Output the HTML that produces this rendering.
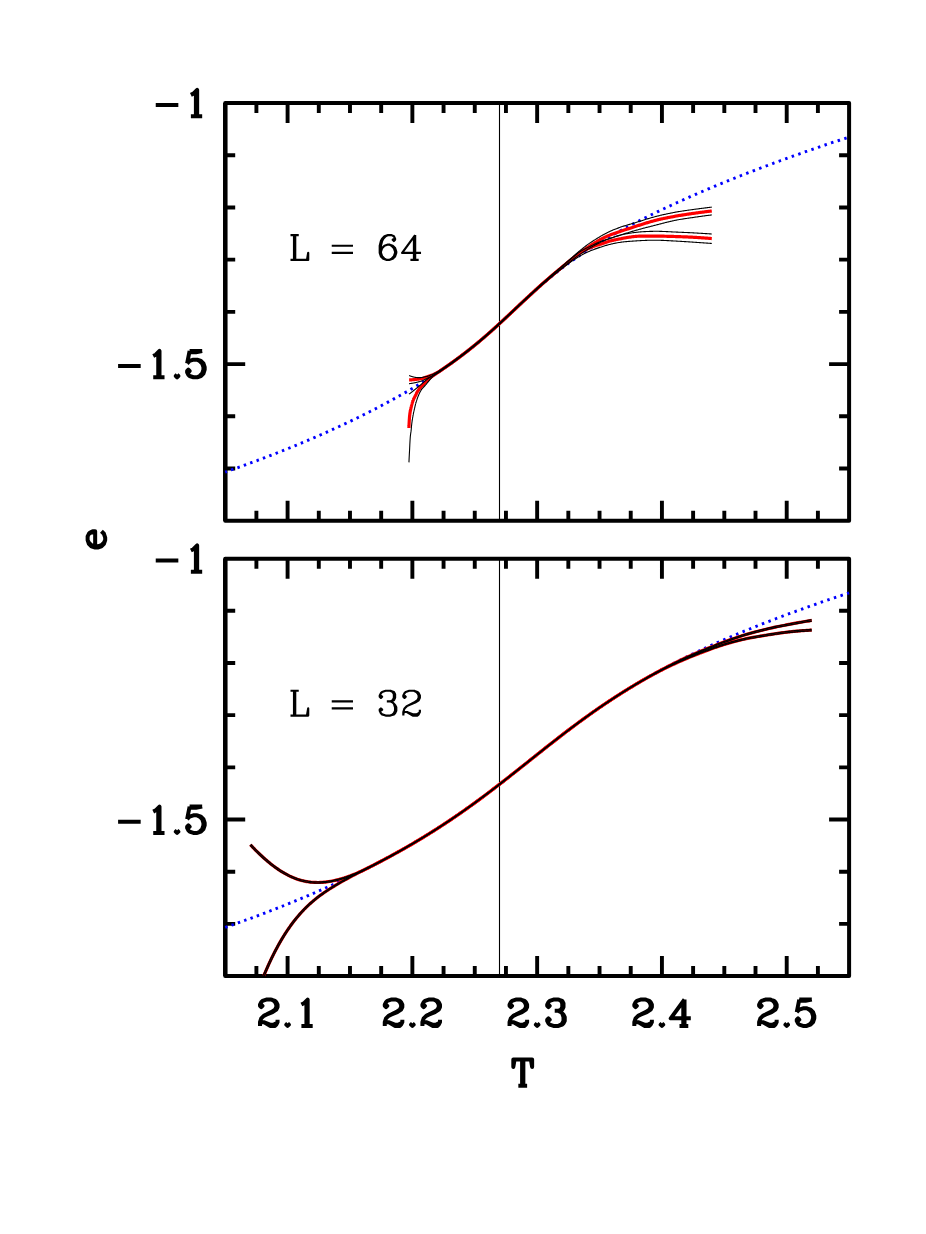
<!DOCTYPE html>
<html><head><meta charset="utf-8"><title>e vs T</title>
<style>html,body{margin:0;padding:0;background:#fff;font-family:"Liberation Sans",sans-serif}svg{display:block}</style></head>
<body>
<svg width="926" height="1234" viewBox="0 0 926 1234">
<rect width="926" height="1234" fill="#fff"/>
<path d="M256.40 103.00 v10.00 M256.40 520.75 v-10.00 M287.59 103.00 v20.00 M287.59 520.75 v-20.00 M318.79 103.00 v10.00 M318.79 520.75 v-10.00 M349.98 103.00 v10.00 M349.98 520.75 v-10.00 M381.18 103.00 v10.00 M381.18 520.75 v-10.00 M412.37 103.00 v20.00 M412.37 520.75 v-20.00 M443.56 103.00 v10.00 M443.56 520.75 v-10.00 M474.76 103.00 v10.00 M474.76 520.75 v-10.00 M505.95 103.00 v10.00 M505.95 520.75 v-10.00 M537.15 103.00 v20.00 M537.15 520.75 v-20.00 M568.34 103.00 v10.00 M568.34 520.75 v-10.00 M599.54 103.00 v10.00 M599.54 520.75 v-10.00 M630.73 103.00 v10.00 M630.73 520.75 v-10.00 M661.93 103.00 v20.00 M661.93 520.75 v-20.00 M693.12 103.00 v10.00 M693.12 520.75 v-10.00 M724.32 103.00 v10.00 M724.32 520.75 v-10.00 M755.51 103.00 v10.00 M755.51 520.75 v-10.00 M786.71 103.00 v20.00 M786.71 520.75 v-20.00 M817.90 103.00 v10.00 M817.90 520.75 v-10.00 M225.20 155.22 h10.00 M849.10 155.22 h-10.00 M225.20 207.44 h10.00 M849.10 207.44 h-10.00 M225.20 259.66 h10.00 M849.10 259.66 h-10.00 M225.20 311.88 h10.00 M849.10 311.88 h-10.00 M225.20 364.09 h20.00 M849.10 364.09 h-20.00 M225.20 416.31 h10.00 M849.10 416.31 h-10.00 M225.20 468.53 h10.00 M849.10 468.53 h-10.00" fill="none" stroke="#000" stroke-width="3.90"/>
<rect x="225.20" y="103.00" width="623.90" height="417.75" fill="none" stroke="#000" stroke-width="4.00" stroke-linejoin="round"/>
<path d="M225.25 103.00 V520.75" fill="none" stroke="#000" stroke-width="4.4"/>
<path d="M256.40 558.65 v10.00 M256.40 976.05 v-10.00 M287.59 558.65 v20.00 M287.59 976.05 v-20.00 M318.79 558.65 v10.00 M318.79 976.05 v-10.00 M349.98 558.65 v10.00 M349.98 976.05 v-10.00 M381.18 558.65 v10.00 M381.18 976.05 v-10.00 M412.37 558.65 v20.00 M412.37 976.05 v-20.00 M443.56 558.65 v10.00 M443.56 976.05 v-10.00 M474.76 558.65 v10.00 M474.76 976.05 v-10.00 M505.95 558.65 v10.00 M505.95 976.05 v-10.00 M537.15 558.65 v20.00 M537.15 976.05 v-20.00 M568.34 558.65 v10.00 M568.34 976.05 v-10.00 M599.54 558.65 v10.00 M599.54 976.05 v-10.00 M630.73 558.65 v10.00 M630.73 976.05 v-10.00 M661.93 558.65 v20.00 M661.93 976.05 v-20.00 M693.12 558.65 v10.00 M693.12 976.05 v-10.00 M724.32 558.65 v10.00 M724.32 976.05 v-10.00 M755.51 558.65 v10.00 M755.51 976.05 v-10.00 M786.71 558.65 v20.00 M786.71 976.05 v-20.00 M817.90 558.65 v10.00 M817.90 976.05 v-10.00 M225.20 610.82 h10.00 M849.10 610.82 h-10.00 M225.20 663.00 h10.00 M849.10 663.00 h-10.00 M225.20 715.17 h10.00 M849.10 715.17 h-10.00 M225.20 767.35 h10.00 M849.10 767.35 h-10.00 M225.20 819.52 h20.00 M849.10 819.52 h-20.00 M225.20 871.70 h10.00 M849.10 871.70 h-10.00 M225.20 923.88 h10.00 M849.10 923.88 h-10.00" fill="none" stroke="#000" stroke-width="3.90"/>
<rect x="225.20" y="558.65" width="623.90" height="417.40" fill="none" stroke="#000" stroke-width="4.00" stroke-linejoin="round"/>
<path d="M225.25 558.65 V976.05" fill="none" stroke="#000" stroke-width="4.4"/>
<path d="M499.50 103.00 V520.75 M499.50 558.65 V976.05" stroke="#000" stroke-width="1.10" fill="none"/>
<path d="M225.20 472.07 L226.69 471.55 L228.19 471.03 L229.68 470.50 L231.17 469.98 L232.67 469.45 L234.16 468.92 L235.65 468.39 L237.15 467.86 L238.64 467.32 L240.13 466.79 L241.63 466.25 L243.12 465.71 L244.62 465.17 L246.11 464.63 L247.60 464.08 L249.10 463.53 L250.59 462.98 L252.08 462.43 L253.58 461.88 L255.07 461.32 L256.56 460.77 L258.06 460.21 L259.55 459.65 L261.04 459.08 L262.54 458.52 L264.03 457.95 L265.52 457.38 L267.02 456.81 L268.51 456.24 L270.00 455.66 L271.50 455.09 L272.99 454.51 L274.48 453.93 L275.98 453.34 L277.47 452.76 L278.97 452.17 L280.46 451.58 L281.95 450.99 L283.45 450.39 L284.94 449.80 L286.43 449.20 L287.93 448.60 L289.42 447.99 L290.91 447.39 L292.41 446.78 L293.90 446.17 L295.39 445.56 L296.89 444.94 L298.38 444.32 L299.87 443.70 L301.37 443.08 L302.86 442.46 L304.35 441.83 L305.85 441.20 L307.34 440.57 L308.83 439.94 L310.33 439.30 L311.82 438.66 L313.32 438.02 L314.81 437.37 L316.30 436.73 L317.80 436.08 L319.29 435.43 L320.78 434.77 L322.28 434.11 L323.77 433.45 L325.26 432.79 L326.76 432.12 L328.25 431.46 L329.74 430.79 L331.24 430.11 L332.73 429.43 L334.22 428.76 L335.72 428.07 L337.21 427.39 L338.70 426.70 L340.20 426.01 L341.69 425.31 L343.18 424.62 L344.68 423.92 L346.17 423.21 L347.67 422.51 L349.16 421.80 L350.65 421.08 L352.15 420.37 L353.64 419.65 L355.13 418.93 L356.63 418.20 L358.12 417.47 L359.61 416.74 L361.11 416.00 L362.60 415.27 L364.09 414.52 L365.59 413.78 L367.08 413.03 L368.57 412.27 L370.07 411.52 L371.56 410.76 L373.05 409.99 L374.55 409.22 L376.04 408.45 L377.53 407.68 L379.03 406.90 L380.52 406.11 L382.02 405.33 L383.51 404.53 L385.00 403.74 L386.50 402.94 L387.99 402.14 L389.48 401.33 L390.98 400.51 L392.47 399.70 L393.96 398.88 L395.46 398.05 L396.95 397.22 L398.44 396.39 L399.94 395.55 L401.43 394.70 L402.92 393.85 L404.42 393.00 L405.91 392.14 L407.40 391.28 L408.90 390.41 L410.39 389.53 L411.88 388.65 L413.38 387.77 L414.87 386.88 L416.37 385.98 L417.86 385.08 L419.35 384.17 L420.85 383.26 L422.34 382.34 L423.83 381.41 L425.33 380.48 L426.82 379.54 L428.31 378.59 L429.81 377.64 L431.30 376.69 L432.79 375.72 L434.29 374.75 L435.78 373.77 L437.27 372.78 L438.77 371.79 L440.26 370.79 L441.75 369.78 L443.25 368.76 L444.74 367.74 L446.23 366.70 L447.73 365.66 L449.22 364.61 L450.72 363.56 L452.21 362.49 L453.70 361.41 L455.20 360.33 L456.69 359.23 L458.18 358.13 L459.68 357.02 L461.17 355.90 L462.66 354.76 L464.16 353.62 L465.65 352.47 L467.14 351.31 L468.64 350.13 L470.13 348.95 L471.62 347.76 L473.12 346.55 L474.61 345.34 L476.10 344.11 L477.60 342.88 L479.09 341.63 L480.58 340.38 L482.08 339.11 L483.57 337.83 L485.07 336.55 L486.56 335.25 L488.05 333.94 L489.55 332.63 L491.04 331.30 L492.53 329.97 L494.03 328.63 L495.52 327.28 L497.01 325.92 L498.51 324.55 L500.00 323.18" fill="none" stroke="#00f" stroke-width="2.90" stroke-dasharray="2.500 4.295" stroke-dashoffset="0.650"/>
<path d="M500.00 323.18 L501.50 321.80 L503.00 320.41 L504.49 319.01 L505.99 317.61 L507.49 316.21 L508.99 314.80 L510.49 313.40 L511.99 311.99 L513.48 310.57 L514.98 309.16 L516.48 307.75 L517.98 306.34 L519.48 304.93 L520.98 303.52 L522.47 302.12 L523.97 300.72 L525.47 299.33 L526.97 297.94 L528.47 296.55 L529.97 295.18 L531.46 293.81 L532.96 292.45 L534.46 291.09 L535.96 289.75 L537.46 288.41 L538.96 287.09 L540.45 285.77 L541.95 284.47 L543.45 283.17 L544.95 281.89 L546.45 280.62 L547.95 279.36 L549.44 278.11 L550.94 276.87 L552.44 275.65 L553.94 274.43 L555.44 273.23 L556.93 272.04 L558.43 270.86 L559.93 269.70 L561.43 268.54 L562.93 267.40 L564.43 266.27 L565.92 265.15 L567.42 264.05 L568.92 262.95 L570.42 261.87 L571.92 260.79 L573.42 259.73 L574.91 258.68 L576.41 257.63 L577.91 256.60 L579.41 255.58 L580.91 254.57 L582.41 253.56 L583.90 252.57 L585.40 251.59 L586.90 250.61 L588.40 249.64 L589.90 248.69 L591.40 247.74 L592.89 246.79 L594.39 245.86 L595.89 244.93 L597.39 244.02 L598.89 243.10 L600.38 242.20 L601.88 241.30 L603.38 240.41 L604.88 239.53 L606.38 238.65 L607.88 237.78 L609.37 236.92 L610.87 236.06 L612.37 235.21 L613.87 234.36 L615.37 233.52 L616.87 232.69 L618.36 231.86 L619.86 231.03 L621.36 230.21 L622.86 229.40 L624.36 228.59 L625.86 227.79 L627.35 226.99 L628.85 226.19 L630.35 225.40 L631.85 224.61 L633.35 223.83 L634.85 223.05 L636.34 222.28 L637.84 221.51 L639.34 220.75 L640.84 219.98 L642.34 219.23 L643.84 218.47 L645.33 217.72 L646.83 216.98 L648.33 216.23 L649.83 215.49 L651.33 214.76 L652.82 214.03 L654.32 213.30 L655.82 212.57 L657.32 211.85 L658.82 211.13 L660.32 210.41 L661.81 209.70 L663.31 208.99 L664.81 208.29 L666.31 207.58 L667.81 206.88 L669.31 206.18 L670.80 205.49 L672.30 204.80 L673.80 204.11 L675.30 203.42 L676.80 202.74 L678.30 202.05 L679.79 201.38 L681.29 200.70 L682.79 200.03 L684.29 199.36 L685.79 198.69 L687.29 198.02 L688.78 197.36 L690.28 196.70 L691.78 196.04 L693.28 195.38 L694.78 194.73 L696.28 194.08 L697.77 193.43 L699.27 192.78 L700.77 192.14 L702.27 191.49 L703.77 190.85 L705.26 190.22 L706.76 189.58 L708.26 188.95 L709.76 188.32 L711.26 187.69 L712.76 187.06 L714.25 186.43 L715.75 185.81 L717.25 185.19 L718.75 184.57 L720.25 183.95 L721.75 183.34 L723.24 182.73 L724.74 182.12 L726.24 181.51 L727.74 180.90 L729.24 180.29 L730.74 179.69 L732.23 179.09 L733.73 178.49 L735.23 177.89 L736.73 177.30 L738.23 176.70 L739.73 176.11 L741.22 175.52 L742.72 174.93 L744.22 174.35 L745.72 173.76 L747.22 173.18 L748.72 172.60 L750.21 172.02 L751.71 171.44 L753.21 170.86 L754.71 170.29 L756.21 169.71 L757.70 169.14 L759.20 168.57 L760.70 168.00 L762.20 167.44 L763.70 166.87 L765.20 166.31 L766.69 165.75 L768.19 165.19 L769.69 164.63 L771.19 164.07 L772.69 163.52 L774.19 162.96 L775.68 162.41 L777.18 161.86 L778.68 161.31 L780.18 160.76 L781.68 160.22 L783.18 159.67 L784.67 159.13 L786.17 158.59 L787.67 158.05 L789.17 157.51 L790.67 156.97 L792.17 156.44 L793.66 155.90 L795.16 155.37 L796.66 154.84 L798.16 154.31 L799.66 153.78 L801.15 153.25 L802.65 152.73 L804.15 152.20 L805.65 151.68 L807.15 151.16 L808.65 150.64 L810.14 150.12 L811.64 149.60 L813.14 149.08 L814.64 148.57 L816.14 148.05 L817.64 147.54 L819.13 147.03 L820.63 146.52 L822.13 146.01 L823.63 145.50 L825.13 145.00 L826.63 144.49 L828.12 143.99 L829.62 143.49 L831.12 142.99 L832.62 142.49 L834.12 141.99 L835.62 141.49 L837.11 140.99 L838.61 140.50 L840.11 140.00 L841.61 139.51 L843.11 139.02 L844.61 138.53 L846.10 138.04 L847.60 137.55 L849.10 137.07" fill="none" stroke="#00f" stroke-width="2.90" stroke-dasharray="2.500 4.440" stroke-dashoffset="0.855"/>
<path d="M225.20 927.41 L226.69 926.89 L228.19 926.37 L229.68 925.84 L231.17 925.32 L232.67 924.79 L234.16 924.26 L235.65 923.73 L237.15 923.20 L238.64 922.67 L240.13 922.13 L241.63 921.60 L243.12 921.06 L244.62 920.51 L246.11 919.97 L247.60 919.43 L249.10 918.88 L250.59 918.33 L252.08 917.78 L253.58 917.23 L255.07 916.67 L256.56 916.12 L258.06 915.56 L259.55 915.00 L261.04 914.43 L262.54 913.87 L264.03 913.30 L265.52 912.74 L267.02 912.16 L268.51 911.59 L270.00 911.02 L271.50 910.44 L272.99 909.86 L274.48 909.28 L275.98 908.70 L277.47 908.11 L278.97 907.52 L280.46 906.93 L281.95 906.34 L283.45 905.75 L284.94 905.15 L286.43 904.55 L287.93 903.95 L289.42 903.35 L290.91 902.74 L292.41 902.14 L293.90 901.53 L295.39 900.92 L296.89 900.30 L298.38 899.68 L299.87 899.06 L301.37 898.44 L302.86 897.82 L304.35 897.19 L305.85 896.56 L307.34 895.93 L308.83 895.30 L310.33 894.66 L311.82 894.02 L313.32 893.38 L314.81 892.74 L316.30 892.09 L317.80 891.44 L319.29 890.79 L320.78 890.13 L322.28 889.48 L323.77 888.82 L325.26 888.15 L326.76 887.49 L328.25 886.82 L329.74 886.15 L331.24 885.48 L332.73 884.80 L334.22 884.12 L335.72 883.44 L337.21 882.75 L338.70 882.07 L340.20 881.37 L341.69 880.68 L343.18 879.98 L344.68 879.28 L346.17 878.58 L347.67 877.87 L349.16 877.16 L350.65 876.45 L352.15 875.74 L353.64 875.02 L355.13 874.29 L356.63 873.57 L358.12 872.84 L359.61 872.11 L361.11 871.37 L362.60 870.63 L364.09 869.89 L365.59 869.15 L367.08 868.40 L368.57 867.64 L370.07 866.89 L371.56 866.13 L373.05 865.36 L374.55 864.60 L376.04 863.83 L377.53 863.05 L379.03 862.27 L380.52 861.49 L382.02 860.70 L383.51 859.91 L385.00 859.12 L386.50 858.32 L387.99 857.52 L389.48 856.71 L390.98 855.90 L392.47 855.09 L393.96 854.27 L395.46 853.45 L396.95 852.62 L398.44 851.79 L399.94 850.96 L401.43 850.12 L402.92 849.27 L404.42 848.43 L405.91 847.57 L407.40 846.71 L408.90 845.85 L410.39 844.99 L411.88 844.12 L413.38 843.24 L414.87 842.36 L416.37 841.47 L417.86 840.58 L419.35 839.69 L420.85 838.79 L422.34 837.89 L423.83 836.98 L425.33 836.06 L426.82 835.14 L428.31 834.22 L429.81 833.29 L431.30 832.35 L432.79 831.42 L434.29 830.47 L435.78 829.52 L437.27 828.57 L438.77 827.61 L440.26 826.64 L441.75 825.67 L443.25 824.70 L444.74 823.71 L446.23 822.73 L447.73 821.74 L449.22 820.74 L450.72 819.74 L452.21 818.73 L453.70 817.72 L455.20 816.70 L456.69 815.68 L458.18 814.65 L459.68 813.62 L461.17 812.58 L462.66 811.54 L464.16 810.49 L465.65 809.43 L467.14 808.37 L468.64 807.31 L470.13 806.24 L471.62 805.17 L473.12 804.09 L474.61 803.00 L476.10 801.92 L477.60 800.82 L479.09 799.72 L480.58 798.62 L482.08 797.51 L483.57 796.40 L485.07 795.29 L486.56 794.17 L488.05 793.04 L489.55 791.91 L491.04 790.78 L492.53 789.64 L494.03 788.50 L495.52 787.36 L497.01 786.21 L498.51 785.06 L500.00 783.91" fill="none" stroke="#00f" stroke-width="2.90" stroke-dasharray="2.500 4.215" stroke-dashoffset="0.050"/>
<path d="M500.00 783.91 L501.50 782.74 L503.00 781.58 L504.49 780.41 L505.99 779.24 L507.49 778.07 L508.99 776.89 L510.49 775.72 L511.99 774.54 L513.48 773.35 L514.98 772.17 L516.48 770.98 L517.98 769.80 L519.48 768.61 L520.98 767.42 L522.47 766.23 L523.97 765.04 L525.47 763.85 L526.97 762.65 L528.47 761.46 L529.97 760.27 L531.46 759.07 L532.96 757.88 L534.46 756.69 L535.96 755.50 L537.46 754.31 L538.96 753.12 L540.45 751.93 L541.95 750.74 L543.45 749.55 L544.95 748.37 L546.45 747.18 L547.95 746.00 L549.44 744.83 L550.94 743.65 L552.44 742.48 L553.94 741.30 L555.44 740.14 L556.93 738.97 L558.43 737.81 L559.93 736.65 L561.43 735.49 L562.93 734.34 L564.43 733.19 L565.92 732.05 L567.42 730.91 L568.92 729.77 L570.42 728.64 L571.92 727.51 L573.42 726.39 L574.91 725.27 L576.41 724.16 L577.91 723.05 L579.41 721.94 L580.91 720.84 L582.41 719.75 L583.90 718.66 L585.40 717.57 L586.90 716.49 L588.40 715.42 L589.90 714.35 L591.40 713.29 L592.89 712.23 L594.39 711.18 L595.89 710.13 L597.39 709.09 L598.89 708.06 L600.38 707.03 L601.88 706.00 L603.38 704.98 L604.88 703.97 L606.38 702.96 L607.88 701.96 L609.37 700.97 L610.87 699.98 L612.37 698.99 L613.87 698.01 L615.37 697.04 L616.87 696.08 L618.36 695.11 L619.86 694.16 L621.36 693.21 L622.86 692.27 L624.36 691.33 L625.86 690.40 L627.35 689.47 L628.85 688.55 L630.35 687.63 L631.85 686.72 L633.35 685.82 L634.85 684.92 L636.34 684.03 L637.84 683.14 L639.34 682.26 L640.84 681.38 L642.34 680.51 L643.84 679.64 L645.33 678.78 L646.83 677.92 L648.33 677.07 L649.83 676.23 L651.33 675.39 L652.82 674.55 L654.32 673.72 L655.82 672.89 L657.32 672.07 L658.82 671.26 L660.32 670.44 L661.81 669.64 L663.31 668.83 L664.81 668.04 L666.31 667.24 L667.81 666.46 L669.31 665.67 L670.80 664.89 L672.30 664.12 L673.80 663.35 L675.30 662.58 L676.80 661.82 L678.30 661.06 L679.79 660.30 L681.29 659.55 L682.79 658.81 L684.29 658.07 L685.79 657.33 L687.29 656.60 L688.78 655.86 L690.28 655.14 L691.78 654.42 L693.28 653.70 L694.78 652.98 L696.28 652.27 L697.77 651.56 L699.27 650.86 L700.77 650.16 L702.27 649.46 L703.77 648.76 L705.26 648.07 L706.76 647.39 L708.26 646.70 L709.76 646.02 L711.26 645.34 L712.76 644.67 L714.25 644.00 L715.75 643.33 L717.25 642.66 L718.75 642.00 L720.25 641.34 L721.75 640.69 L723.24 640.03 L724.74 639.38 L726.24 638.74 L727.74 638.09 L729.24 637.45 L730.74 636.81 L732.23 636.17 L733.73 635.54 L735.23 634.91 L736.73 634.28 L738.23 633.65 L739.73 633.03 L741.22 632.41 L742.72 631.79 L744.22 631.17 L745.72 630.56 L747.22 629.95 L748.72 629.34 L750.21 628.73 L751.71 628.13 L753.21 627.53 L754.71 626.93 L756.21 626.33 L757.70 625.74 L759.20 625.14 L760.70 624.55 L762.20 623.96 L763.70 623.38 L765.20 622.79 L766.69 622.21 L768.19 621.63 L769.69 621.05 L771.19 620.48 L772.69 619.91 L774.19 619.33 L775.68 618.76 L777.18 618.20 L778.68 617.63 L780.18 617.07 L781.68 616.50 L783.18 615.94 L784.67 615.39 L786.17 614.83 L787.67 614.27 L789.17 613.72 L790.67 613.17 L792.17 612.62 L793.66 612.07 L795.16 611.53 L796.66 610.98 L798.16 610.44 L799.66 609.90 L801.15 609.36 L802.65 608.82 L804.15 608.29 L805.65 607.75 L807.15 607.22 L808.65 606.69 L810.14 606.16 L811.64 605.63 L813.14 605.11 L814.64 604.58 L816.14 604.06 L817.64 603.54 L819.13 603.02 L820.63 602.50 L822.13 601.98 L823.63 601.47 L825.13 600.95 L826.63 600.44 L828.12 599.93 L829.62 599.42 L831.12 598.91 L832.62 598.41 L834.12 597.90 L835.62 597.40 L837.11 596.90 L838.61 596.39 L840.11 595.89 L841.61 595.40 L843.11 594.90 L844.61 594.40 L846.10 593.91 L847.60 593.42 L849.10 592.92" fill="none" stroke="#00f" stroke-width="2.90" stroke-dasharray="2.500 4.460" stroke-dashoffset="4.754"/>
<path d="M409.10 379.90 L409.17 379.90 L409.23 379.90 L409.30 379.90 L409.37 379.89 L409.44 379.89 L409.50 379.89 L409.57 379.89 L409.64 379.89 L409.71 379.88 L409.77 379.88 L409.82 379.88 L409.84 379.88 L409.91 379.88 L409.97 379.88 L410.04 379.87 L410.11 379.87 L410.18 379.87 L410.24 379.87 L410.31 379.86 L410.38 379.86 L410.44 379.86 L410.51 379.86 L410.54 379.85 L410.58 379.85 L410.65 379.85 L410.71 379.85 L410.78 379.84 L410.85 379.84 L410.92 379.84 L410.98 379.83 L411.05 379.83 L411.12 379.83 L411.18 379.82 L411.25 379.82 L411.27 379.82 L411.32 379.82 L411.39 379.81 L411.45 379.81 L411.52 379.81 L411.59 379.80 L411.65 379.80 L411.72 379.79 L411.79 379.79 L411.86 379.78 L411.92 379.78 L411.99 379.78 L411.99 379.78 L412.06 379.77 L412.13 379.77 L412.19 379.76 L412.26 379.76 L412.33 379.75 L412.39 379.75 L412.46 379.74 L412.53 379.74 L412.60 379.73 L412.66 379.73 L412.71 379.72 L412.73 379.72 L412.80 379.72 L412.86 379.71 L412.93 379.71 L413.00 379.70 L413.00 379.70 L413.07 379.69 L413.13 379.69 L413.20 379.68 L413.27 379.68 L413.34 379.67 L413.40 379.66 L413.43 379.66 L413.47 379.66 L413.54 379.65 L413.60 379.64 L413.67 379.64 L413.74 379.63 L413.81 379.62 L413.87 379.62 L413.94 379.61 L414.01 379.60 L414.07 379.60 L414.14 379.59 L414.16 379.59 L414.21 379.58 L414.28 379.57 L414.34 379.57 L414.41 379.56 L414.48 379.55 L414.55 379.54 L414.61 379.54 L414.68 379.53 L414.75 379.52 L414.81 379.51 L414.88 379.51 L414.88 379.51 L414.95 379.50 L415.02 379.49 L415.08 379.48 L415.15 379.47 L415.22 379.47 L415.28 379.46 L415.35 379.45 L415.42 379.44 L415.49 379.43 L415.55 379.42 L415.60 379.42 L415.62 379.42 L415.69 379.41 L415.76 379.40 L415.82 379.39 L415.89 379.38 L415.96 379.37 L416.02 379.36 L416.09 379.36 L416.16 379.35 L416.23 379.34 L416.29 379.33 L416.32 379.33 L416.36 379.32 L416.43 379.31 L416.49 379.30 L416.56 379.30 L416.63 379.29 L416.70 379.28 L416.76 379.27 L416.83 379.26 L416.90 379.25 L416.97 379.24 L417.03 379.23 L417.05 379.23 L417.10 379.23 L417.30 379.20 L417.77 379.14 L418.49 379.06 L419.21 378.99 L419.94 378.90 L420.66 378.79 L421.38 378.65 L421.60 378.60 L422.10 378.48 L422.83 378.29 L423.55 378.08 L424.27 377.86 L424.99 377.62 L425.72 377.37 L425.90 377.30 L426.44 377.10 L427.16 376.84 L427.88 376.58 L428.61 376.32 L429.33 376.05 L430.05 375.79 L430.77 375.52 L431.50 375.24 L432.22 374.96 L432.94 374.67 L433.66 374.36 L434.39 374.04 L435.11 373.71 L435.83 373.37 L436.55 373.00 L437.27 372.62 L438.00 372.21 L438.72 371.78 L439.44 371.33 L440.00 370.96 L440.16 370.85 L440.89 370.37 L441.61 369.88 L442.33 369.39 L443.05 368.89 L443.78 368.40 L444.50 367.90 L445.22 367.41 L445.94 366.91 L446.67 366.40 L447.39 365.90 L448.11 365.40 L448.83 364.89 L449.56 364.38 L450.28 363.87 L451.00 363.35 L451.72 362.84 L452.45 362.32 L453.17 361.80 L453.89 361.28 L454.61 360.75 L455.34 360.23 L456.06 359.70 L456.78 359.17 L457.50 358.63 L458.23 358.10 L458.95 357.56 L459.67 357.02 L460.00 356.78 L460.39 356.48 L461.12 355.94 L461.84 355.39 L462.56 354.84 L463.28 354.29 L464.01 353.74 L464.73 353.18 L465.45 352.62 L466.17 352.06 L466.89 351.50 L467.62 350.94 L468.34 350.37 L469.06 349.80 L469.78 349.23 L470.51 348.65 L471.23 348.07 L471.95 347.49 L472.67 346.91 L473.40 346.33 L474.12 345.74 L474.84 345.15 L475.56 344.56 L476.29 343.96 L477.01 343.37 L477.73 342.77 L478.45 342.17 L479.18 341.56 L479.90 340.96 L480.00 340.87 L480.62 340.35 L481.34 339.74 L482.07 339.12 L482.79 338.51 L483.51 337.89 L484.23 337.27 L484.96 336.64 L485.68 336.02 L486.40 335.39 L487.12 334.76 L487.85 334.13 L488.57 333.49 L489.29 332.85 L490.01 332.22 L490.74 331.57 L491.46 330.93 L492.18 330.29 L492.90 329.64 L493.62 328.99 L494.35 328.34 L495.07 327.68 L495.79 327.03 L496.51 326.37 L497.24 325.71 L497.96 325.05 L498.68 324.39 L499.40 323.73 L500.00 323.18 L500.13 323.06 L500.85 322.40 L501.57 321.73 L502.29 321.06 L503.02 320.39 L503.74 319.72 L504.46 319.04 L505.18 318.37 L505.91 317.70 L506.63 317.02 L507.35 316.34 L508.07 315.66 L508.80 314.99 L509.52 314.31 L510.24 313.63 L510.96 312.95 L511.69 312.27 L512.41 311.59 L513.13 310.91 L513.85 310.23 L514.58 309.55 L515.30 308.86 L516.02 308.18 L516.74 307.50 L517.47 306.82 L518.19 306.14 L518.91 305.46 L519.63 304.78 L520.00 304.44 L520.35 304.11 L521.08 303.43 L521.80 302.75 L522.52 302.07 L523.24 301.40 L523.97 300.73 L524.69 300.05 L525.41 299.38 L526.13 298.71 L526.86 298.04 L527.58 297.37 L528.30 296.71 L529.02 296.04 L529.75 295.38 L530.00 295.14 L530.47 294.71 L531.19 294.05 L531.91 293.38 L532.64 292.72 L533.36 292.05 L534.08 291.38 L534.80 290.71 L535.53 290.05 L536.25 289.38 L536.97 288.72 L537.69 288.06 L538.42 287.40 L539.14 286.74 L539.86 286.09 L540.00 285.97 L540.58 285.45 L541.31 284.80 L542.03 284.16 L542.75 283.52 L543.47 282.89 L544.20 282.25 L544.92 281.62 L545.64 280.99 L546.36 280.37 L547.08 279.74 L547.81 279.12 L548.53 278.50 L549.25 277.88 L549.97 277.27 L550.00 277.25 L550.70 276.65 L551.42 276.04 L552.14 275.44 L552.86 274.83 L553.59 274.23 L554.31 273.63 L555.03 273.03 L555.75 272.43 L556.48 271.83 L557.20 271.24 L557.92 270.64 L558.64 270.05 L559.37 269.46 L560.00 268.95 L560.09 268.87 L560.81 268.28 L561.53 267.69 L562.26 267.10 L562.98 266.50 L563.70 265.90 L564.42 265.31 L565.15 264.71 L565.87 264.12 L566.59 263.53 L567.31 262.94 L568.04 262.35 L568.76 261.76 L569.48 261.18 L570.00 260.77 L570.20 260.61 L570.93 260.03 L571.65 259.44 L572.37 258.85 L573.09 258.26 L573.82 257.68 L574.54 257.09 L575.26 256.52 L575.98 255.94 L576.70 255.38 L577.43 254.83 L578.15 254.29 L578.87 253.76 L579.59 253.26 L580.00 252.98 L580.32 252.77 L581.04 252.30 L581.76 251.85 L582.48 251.43 L583.21 251.02 L583.93 250.63 L584.65 250.25 L585.37 249.89 L586.10 249.54 L586.82 249.19 L587.54 248.85 L588.26 248.52 L588.99 248.18 L589.71 247.85 L590.00 247.72 L590.43 247.53 L591.15 247.22 L591.88 246.93 L592.60 246.67 L593.32 246.41 L594.04 246.17 L594.77 245.94 L595.49 245.72 L596.21 245.50 L596.93 245.28 L597.66 245.07 L598.38 244.85 L599.10 244.62 L599.82 244.39 L600.00 244.33 L600.55 244.15 L601.27 243.91 L601.99 243.66 L602.71 243.41 L603.43 243.16 L604.16 242.92 L604.88 242.67 L605.60 242.43 L606.32 242.19 L607.05 241.95 L607.77 241.72 L608.49 241.50 L609.21 241.28 L609.94 241.08 L610.00 241.06 L610.66 240.88 L611.38 240.69 L612.10 240.51 L612.83 240.34 L613.55 240.17 L614.27 240.01 L614.99 239.85 L615.72 239.70 L616.44 239.55 L617.16 239.41 L617.88 239.27 L618.61 239.13 L619.33 238.99 L620.00 238.86 L620.05 238.85 L620.77 238.71 L621.50 238.57 L622.22 238.43 L622.94 238.30 L623.66 238.16 L624.39 238.03 L625.11 237.90 L625.83 237.77 L626.55 237.65 L627.28 237.53 L628.00 237.41 L628.72 237.29 L629.44 237.18 L630.16 237.07 L630.89 236.97 L631.61 236.87 L632.33 236.78 L633.05 236.69 L633.78 236.60 L634.50 236.52 L635.00 236.47 L635.22 236.45 L635.94 236.39 L636.67 236.33 L637.39 236.27 L638.11 236.23 L638.83 236.19 L639.56 236.15 L640.28 236.12 L641.00 236.10 L641.72 236.08 L642.45 236.06 L643.17 236.05 L643.89 236.04 L644.61 236.04 L645.34 236.03 L646.06 236.03 L646.78 236.03 L647.50 236.04 L648.23 236.04 L648.95 236.05 L649.67 236.06 L650.39 236.06 L651.12 236.07 L651.84 236.08 L652.56 236.09 L653.28 236.09 L654.01 236.10 L654.73 236.10 L655.00 236.10 L655.45 236.10 L656.17 236.10 L656.89 236.11 L657.62 236.11 L658.34 236.12 L659.06 236.13 L659.78 236.14 L660.51 236.15 L661.23 236.16 L661.95 236.17 L662.67 236.19 L663.40 236.20 L664.12 236.22 L664.84 236.23 L665.56 236.25 L666.29 236.27 L667.01 236.29 L667.73 236.30 L668.45 236.32 L669.18 236.34 L669.90 236.36 L670.62 236.39 L671.34 236.41 L672.07 236.43 L672.79 236.45 L673.51 236.47 L674.23 236.50 L674.40 236.50 L674.96 236.52 L675.68 236.54 L676.40 236.57 L677.12 236.59 L677.85 236.61 L678.57 236.64 L679.29 236.66 L680.01 236.69 L680.74 236.71 L681.46 236.74 L682.18 236.76 L682.90 236.79 L683.63 236.82 L684.35 236.85 L685.07 236.88 L685.79 236.91 L686.51 236.94 L687.24 236.97 L687.96 237.00 L688.68 237.03 L689.40 237.07 L690.13 237.10 L690.85 237.14 L691.57 237.17 L692.29 237.21 L693.02 237.25 L693.74 237.29 L693.90 237.30 L694.46 237.33 L695.18 237.37 L695.91 237.42 L696.63 237.46 L697.35 237.51 L698.07 237.55 L698.80 237.60 L699.52 237.64 L700.24 237.69 L700.96 237.74 L701.69 237.79 L702.41 237.84 L703.13 237.89 L703.85 237.94 L704.58 237.99 L705.30 238.05 L706.02 238.10 L706.74 238.15 L707.47 238.21 L708.19 238.27 L708.91 238.32 L709.63 238.38 L710.36 238.44 L711.08 238.50 L711.80 238.56" fill="none" stroke="#f00" stroke-width="3.20" stroke-linejoin="round"/>
<path d="M408.90 428.00 L408.97 426.66 L409.03 425.31 L409.04 425.20 L409.10 423.90 L409.17 422.45 L409.24 421.14 L409.25 420.90 L409.30 420.03 L409.37 419.00 L409.44 418.05 L409.51 417.21 L409.56 416.60 L409.57 416.47 L409.62 415.97 L409.64 415.81 L409.71 415.19 L409.77 414.62 L409.84 414.08 L409.91 413.58 L409.98 413.10 L410.04 412.66 L410.10 412.30 L410.11 412.24 L410.18 411.84 L410.24 411.46 L410.31 411.10 L410.35 410.92 L410.38 410.75 L410.45 410.41 L410.51 410.09 L410.58 409.78 L410.65 409.47 L410.72 409.17 L410.78 408.87 L410.85 408.58 L410.92 408.28 L410.98 408.00 L410.98 407.98 L411.05 407.68 L411.07 407.61 L411.12 407.39 L411.19 407.09 L411.25 406.79 L411.32 406.50 L411.39 406.21 L411.45 405.93 L411.52 405.65 L411.59 405.37 L411.66 405.10 L411.72 404.83 L411.79 404.57 L411.79 404.57 L411.86 404.32 L411.93 404.07 L411.99 403.83 L412.06 403.60 L412.06 403.60 L412.13 403.38 L412.19 403.16 L412.26 402.94 L412.33 402.72 L412.40 402.51 L412.46 402.30 L412.51 402.14 L412.53 402.10 L412.60 401.89 L412.66 401.69 L412.73 401.50 L412.80 401.30 L412.87 401.11 L412.93 400.92 L413.00 400.74 L413.07 400.56 L413.14 400.38 L413.20 400.21 L413.24 400.12 L413.27 400.03 L413.34 399.86 L413.40 399.70 L413.47 399.53 L413.54 399.37 L413.57 399.30 L413.61 399.22 L413.67 399.06 L413.74 398.91 L413.81 398.76 L413.87 398.61 L413.94 398.47 L413.96 398.43 L414.01 398.33 L414.08 398.19 L414.14 398.05 L414.21 397.91 L414.28 397.78 L414.35 397.64 L414.41 397.51 L414.48 397.38 L414.55 397.25 L414.61 397.12 L414.68 396.99 L414.68 396.99 L414.75 396.87 L414.82 396.74 L414.88 396.61 L414.95 396.49 L415.02 396.36 L415.08 396.23 L415.15 396.11 L415.22 395.98 L415.29 395.86 L415.35 395.73 L415.41 395.63 L415.42 395.60 L415.49 395.47 L415.56 395.34 L415.62 395.21 L415.69 395.08 L415.73 395.00 L415.76 394.95 L415.82 394.81 L415.89 394.67 L415.96 394.54 L416.03 394.40 L416.09 394.26 L416.13 394.18 L416.16 394.12 L416.23 393.98 L416.29 393.84 L416.36 393.69 L416.43 393.55 L416.50 393.42 L416.56 393.28 L416.63 393.14 L416.70 393.00 L416.77 392.87 L416.83 392.74 L416.85 392.70 L416.90 392.61 L417.30 391.90 L417.57 391.46 L418.30 390.35 L419.02 389.30 L419.74 388.32 L420.47 387.40 L421.19 386.55 L421.60 386.10 L421.91 385.77 L422.64 385.05 L423.36 384.36 L424.08 383.69 L424.80 383.03 L425.53 382.36 L425.90 382.00 L426.25 381.65 L426.97 380.88 L427.70 380.09 L428.42 379.31 L429.14 378.59 L429.86 377.95 L430.20 377.70 L430.59 377.43 L431.31 376.92 L432.03 376.41 L432.76 375.91 L433.48 375.41 L434.20 374.91 L434.92 374.41 L435.65 373.91 L436.37 373.42 L437.09 372.93 L437.82 372.44 L438.54 371.95 L439.26 371.46 L439.99 370.97 L440.00 370.96 L440.71 370.49 L441.43 370.00 L442.15 369.51 L442.88 369.02 L443.60 368.52 L444.32 368.03 L445.05 367.53 L445.77 367.03 L446.49 366.53 L447.21 366.02 L447.94 365.52 L448.66 365.01 L449.38 364.50 L450.11 363.99 L450.83 363.48 L451.55 362.96 L452.27 362.44 L453.00 361.92 L453.72 361.40 L454.44 360.88 L455.17 360.35 L455.89 359.82 L456.61 359.29 L457.34 358.76 L458.06 358.22 L458.78 357.69 L459.50 357.15 L460.00 356.78 L460.23 356.61 L460.95 356.06 L461.67 355.52 L462.40 354.97 L463.12 354.42 L463.84 353.86 L464.56 353.31 L465.29 352.75 L466.01 352.19 L466.73 351.63 L467.46 351.06 L468.18 350.49 L468.90 349.92 L469.62 349.35 L470.35 348.78 L471.07 348.20 L471.79 347.62 L472.52 347.04 L473.24 346.45 L473.96 345.87 L474.68 345.28 L475.41 344.69 L476.13 344.09 L476.85 343.50 L477.58 342.90 L478.30 342.29 L479.02 341.69 L479.75 341.08 L480.00 340.87 L480.47 340.48 L481.19 339.86 L481.91 339.25 L482.64 338.63 L483.36 338.02 L484.08 337.39 L484.81 336.77 L485.53 336.15 L486.25 335.52 L486.97 334.89 L487.70 334.26 L488.42 333.62 L489.14 332.98 L489.87 332.34 L490.59 331.70 L491.31 331.06 L492.03 330.42 L492.76 329.77 L493.48 329.12 L494.20 328.47 L494.93 327.81 L495.65 327.16 L496.37 326.50 L497.10 325.84 L497.82 325.18 L498.54 324.52 L499.26 323.86 L499.99 323.19 L500.00 323.18 L500.71 322.53 L501.43 321.86 L502.16 321.19 L502.88 320.52 L503.60 319.84 L504.32 319.17 L505.05 318.50 L505.77 317.82 L506.49 317.15 L507.22 316.47 L507.94 315.79 L508.66 315.11 L509.38 314.43 L510.11 313.75 L510.83 313.07 L511.55 312.39 L512.28 311.71 L513.00 311.03 L513.72 310.35 L514.45 309.67 L515.17 308.99 L515.89 308.31 L516.61 307.62 L517.34 306.94 L518.06 306.26 L518.78 305.58 L519.51 304.90 L520.00 304.44 L520.23 304.22 L520.95 303.55 L521.67 302.87 L522.40 302.19 L523.12 301.52 L523.84 300.84 L524.57 300.17 L525.29 299.49 L526.01 298.82 L526.73 298.15 L527.46 297.48 L528.18 296.82 L528.90 296.15 L529.63 295.49 L530.00 295.14 L530.35 294.82 L531.07 294.16 L531.79 293.49 L532.52 292.83 L533.24 292.16 L533.96 291.49 L534.69 290.82 L535.41 290.15 L536.13 289.49 L536.86 288.82 L537.58 288.16 L538.30 287.50 L539.02 286.85 L539.75 286.20 L540.00 285.97 L540.47 285.55 L541.19 284.90 L541.92 284.26 L542.64 283.62 L543.36 282.99 L544.08 282.35 L544.81 281.72 L545.53 281.09 L546.25 280.47 L546.98 279.84 L547.70 279.22 L548.42 278.60 L549.14 277.98 L549.87 277.36 L550.00 277.25 L550.59 276.74 L551.31 276.13 L552.04 275.51 L552.76 274.90 L553.48 274.29 L554.21 273.68 L554.93 273.07 L555.65 272.47 L556.37 271.86 L557.10 271.26 L557.82 270.65 L558.54 270.05 L559.27 269.45 L559.99 268.85 L560.00 268.85 L560.71 268.26 L561.43 267.65 L562.16 267.05 L562.88 266.45 L563.60 265.84 L564.33 265.24 L565.05 264.64 L565.77 264.03 L566.49 263.43 L567.22 262.84 L567.94 262.24 L568.66 261.65 L569.39 261.06 L570.00 260.57 L570.11 260.48 L570.83 259.90 L571.56 259.32 L572.28 258.74 L573.00 258.17 L573.72 257.59 L574.45 257.02 L575.17 256.45 L575.89 255.88 L576.62 255.32 L577.34 254.77 L578.06 254.22 L578.78 253.68 L579.51 253.14 L580.00 252.78 L580.23 252.61 L580.95 252.08 L581.68 251.56 L582.40 251.04 L583.12 250.52 L583.84 250.00 L584.57 249.49 L585.29 248.98 L586.01 248.48 L586.74 247.98 L587.46 247.49 L588.18 247.00 L588.91 246.53 L589.63 246.06 L590.00 245.82 L590.35 245.60 L591.07 245.14 L591.80 244.69 L592.52 244.24 L593.24 243.79 L593.97 243.34 L594.69 242.90 L595.41 242.46 L596.13 242.02 L596.86 241.59 L597.58 241.16 L598.30 240.73 L599.03 240.30 L599.75 239.88 L600.00 239.73 L600.47 239.46 L601.19 239.06 L601.92 238.68 L602.64 238.31 L603.36 237.95 L604.09 237.61 L604.81 237.28 L605.53 236.96 L606.25 236.64 L606.98 236.33 L607.70 236.02 L608.42 235.72 L609.15 235.42 L609.87 235.12 L610.00 235.06 L610.59 234.82 L611.32 234.53 L612.04 234.25 L612.76 233.99 L613.48 233.73 L614.21 233.48 L614.93 233.24 L615.65 233.00 L616.38 232.76 L617.10 232.52 L617.82 232.28 L618.54 232.05 L619.27 231.81 L619.99 231.56 L620.00 231.56 L620.71 231.31 L621.44 231.07 L622.16 230.82 L622.88 230.57 L623.60 230.33 L624.33 230.08 L625.05 229.84 L625.77 229.60 L626.50 229.36 L627.22 229.11 L627.94 228.87 L628.67 228.63 L629.39 228.40 L630.11 228.16 L630.83 227.92 L631.56 227.68 L632.28 227.45 L633.00 227.22 L633.73 226.98 L634.45 226.75 L635.00 226.57 L635.17 226.52 L635.89 226.29 L636.62 226.06 L637.34 225.82 L638.06 225.59 L638.79 225.36 L639.51 225.13 L640.23 224.90 L640.95 224.67 L641.68 224.44 L642.40 224.21 L643.12 223.98 L643.85 223.75 L644.57 223.52 L645.29 223.30 L646.02 223.08 L646.74 222.86 L647.46 222.64 L648.18 222.42 L648.91 222.20 L649.63 221.99 L650.35 221.78 L651.08 221.57 L651.80 221.37 L652.52 221.17 L653.24 220.97 L653.97 220.77 L654.69 220.58 L655.00 220.50 L655.41 220.39 L656.14 220.21 L656.86 220.03 L657.58 219.85 L658.30 219.68 L659.03 219.51 L659.75 219.34 L660.47 219.18 L661.20 219.01 L661.92 218.86 L662.64 218.70 L663.36 218.55 L664.09 218.39 L664.81 218.25 L665.53 218.10 L666.26 217.95 L666.98 217.81 L667.70 217.67 L668.43 217.53 L669.15 217.39 L669.87 217.25 L670.59 217.11 L671.32 216.98 L672.04 216.84 L672.76 216.71 L673.49 216.57 L674.21 216.44 L674.40 216.40 L674.93 216.30 L675.65 216.17 L676.38 216.04 L677.10 215.91 L677.82 215.79 L678.55 215.66 L679.27 215.54 L679.99 215.42 L680.71 215.30 L681.44 215.18 L682.16 215.06 L682.88 214.95 L683.61 214.83 L684.33 214.72 L685.05 214.61 L685.78 214.50 L686.50 214.39 L687.22 214.28 L687.94 214.17 L688.67 214.06 L689.39 213.95 L690.11 213.85 L690.84 213.74 L691.56 213.64 L692.28 213.53 L693.00 213.43 L693.73 213.33 L693.90 213.30 L694.45 213.22 L695.17 213.12 L695.90 213.02 L696.62 212.92 L697.34 212.82 L698.06 212.72 L698.79 212.62 L699.51 212.53 L700.23 212.43 L700.96 212.34 L701.68 212.24 L702.40 212.15 L703.13 212.06 L703.85 211.96 L704.57 211.87 L705.29 211.78 L706.02 211.69 L706.74 211.61 L707.46 211.52 L708.19 211.43 L708.91 211.34 L709.63 211.26 L710.35 211.18 L711.08 211.09 L711.80 211.01" fill="none" stroke="#f00" stroke-width="3.20" stroke-linejoin="round"/>
<path d="M409.10 375.50 L409.17 375.53 L409.23 375.56 L409.30 375.59 L409.37 375.61 L409.44 375.64 L409.50 375.67 L409.57 375.70 L409.64 375.72 L409.71 375.75 L409.77 375.78 L409.82 375.80 L409.84 375.81 L409.91 375.83 L409.97 375.86 L410.04 375.89 L410.11 375.91 L410.18 375.94 L410.24 375.96 L410.31 375.99 L410.38 376.02 L410.44 376.04 L410.51 376.07 L410.54 376.08 L410.58 376.09 L410.65 376.12 L410.71 376.14 L410.78 376.16 L410.85 376.19 L410.92 376.21 L410.98 376.24 L411.05 376.26 L411.12 376.28 L411.18 376.31 L411.25 376.33 L411.27 376.33 L411.32 376.35 L411.39 376.37 L411.45 376.40 L411.52 376.42 L411.59 376.44 L411.65 376.46 L411.72 376.48 L411.79 376.50 L411.86 376.53 L411.92 376.55 L411.99 376.57 L411.99 376.57 L412.06 376.59 L412.13 376.61 L412.19 376.63 L412.26 376.65 L412.33 376.67 L412.39 376.69 L412.46 376.71 L412.53 376.72 L412.60 376.74 L412.66 376.76 L412.71 376.77 L412.73 376.78 L412.80 376.80 L412.86 376.82 L412.93 376.83 L413.00 376.85 L413.00 376.85 L413.07 376.87 L413.13 376.88 L413.20 376.90 L413.27 376.92 L413.34 376.93 L413.40 376.95 L413.43 376.96 L413.47 376.97 L413.54 376.98 L413.60 377.00 L413.67 377.02 L413.74 377.03 L413.81 377.05 L413.87 377.06 L413.94 377.08 L414.01 377.09 L414.07 377.11 L414.14 377.12 L414.16 377.13 L414.21 377.14 L414.28 377.15 L414.34 377.17 L414.41 377.18 L414.48 377.20 L414.55 377.21 L414.61 377.22 L414.68 377.24 L414.75 377.25 L414.81 377.26 L414.88 377.28 L414.88 377.28 L414.95 377.29 L415.02 377.30 L415.08 377.32 L415.15 377.33 L415.22 377.34 L415.28 377.35 L415.35 377.36 L415.42 377.38 L415.49 377.39 L415.55 377.40 L415.60 377.41 L415.62 377.41 L415.69 377.42 L415.76 377.43 L415.82 377.44 L415.89 377.45 L415.96 377.46 L416.02 377.47 L416.09 377.48 L416.16 377.49 L416.23 377.50 L416.29 377.50 L416.32 377.51 L416.36 377.51 L416.43 377.52 L416.49 377.53 L416.56 377.54 L416.63 377.54 L416.70 377.55 L416.76 377.56 L416.83 377.56 L416.90 377.57 L416.97 377.58 L417.03 377.58 L417.05 377.58 L417.10 377.59 L417.30 377.60 L417.77 377.63 L418.49 377.65 L419.21 377.66 L419.94 377.64 L420.66 377.60 L421.38 377.53 L421.60 377.50 L422.10 377.43 L422.83 377.29 L423.55 377.14 L424.27 376.98 L424.99 376.81 L425.72 376.64 L425.90 376.60 L426.44 376.49 L427.16 376.36 L427.88 376.18 L428.10 376.10 L428.61 375.91 L429.33 375.63 L430.05 375.35 L430.77 375.05 L431.50 374.76 L432.22 374.45 L432.94 374.13 L433.66 373.80 L434.39 373.46 L435.11 373.10 L435.83 372.74 L436.55 372.35 L437.27 371.95 L438.00 371.53 L438.72 371.09 L439.44 370.63 L440.00 370.26 L440.16 370.15 L440.89 369.67 L441.61 369.18 L442.33 368.69 L443.05 368.19 L443.78 367.70 L444.50 367.20 L445.22 366.71 L445.94 366.21 L446.67 365.70 L447.39 365.20 L448.11 364.70 L448.83 364.19 L449.56 363.68 L450.28 363.17 L451.00 362.65 L451.72 362.14 L452.45 361.62 L453.17 361.10 L453.89 360.58 L454.61 360.05 L455.34 359.53 L456.06 359.00 L456.78 358.47 L457.50 357.93 L458.23 357.40 L458.95 356.86 L459.67 356.32 L460.00 356.08 L460.39 355.78 L461.12 355.24 L461.84 354.69 L462.56 354.14 L463.28 353.59 L464.01 353.04 L464.73 352.48 L465.45 351.92 L466.17 351.36 L466.89 350.80 L467.62 350.24 L468.34 349.67 L469.06 349.10 L469.78 348.53 L470.51 347.95 L471.23 347.37 L471.95 346.79 L472.67 346.21 L473.40 345.63 L474.12 345.04 L474.84 344.45 L475.56 343.86 L476.29 343.26 L477.01 342.67 L477.73 342.07 L478.45 341.47 L479.18 340.86 L479.90 340.26 L480.00 340.17 L480.62 339.65 L481.34 339.04 L482.07 338.42 L482.79 337.81 L483.51 337.19 L484.23 336.57 L484.96 335.94 L485.68 335.32 L486.40 334.69 L487.12 334.06 L487.85 333.43 L488.57 332.79 L489.29 332.15 L490.01 331.52 L490.74 330.87 L491.46 330.23 L492.18 329.59 L492.90 328.94 L493.62 328.29 L494.35 327.64 L495.07 326.98 L495.79 326.33 L496.51 325.67 L497.24 325.01 L497.96 324.35 L498.68 323.69 L499.40 323.03 L500.00 322.48 L500.13 322.36 L500.85 321.70 L501.57 321.03 L502.29 320.36 L503.02 319.69 L503.74 319.02 L504.46 318.34 L505.18 317.67 L505.91 317.00 L506.63 316.32 L507.35 315.64 L508.07 314.96 L508.80 314.29 L509.52 313.61 L510.24 312.93 L510.96 312.25 L511.69 311.57 L512.41 310.89 L513.13 310.21 L513.85 309.53 L514.58 308.85 L515.30 308.16 L516.02 307.48 L516.74 306.80 L517.47 306.12 L518.19 305.44 L518.91 304.76 L519.63 304.08 L520.00 303.74 L520.35 303.41 L521.08 302.73 L521.80 302.05 L522.52 301.37 L523.24 300.70 L523.97 300.03 L524.69 299.35 L525.41 298.68 L526.13 298.01 L526.86 297.34 L527.58 296.67 L528.30 296.01 L529.02 295.34 L529.75 294.68 L530.00 294.44 L530.47 294.01 L531.19 293.35 L531.91 292.68 L532.64 292.02 L533.36 291.35 L534.08 290.68 L534.80 290.01 L535.53 289.35 L536.25 288.68 L536.97 288.02 L537.69 287.36 L538.42 286.70 L539.14 286.04 L539.86 285.39 L540.00 285.27 L540.58 284.75 L541.31 284.10 L542.03 283.46 L542.75 282.82 L543.47 282.19 L544.20 281.56 L544.92 280.92 L545.64 280.30 L546.36 279.67 L547.08 279.05 L547.81 278.42 L548.53 277.80 L549.25 277.19 L549.97 276.57 L550.00 276.55 L550.70 275.95 L551.42 275.34 L552.14 274.73 L552.86 274.11 L553.59 273.50 L554.31 272.90 L555.03 272.29 L555.75 271.68 L556.48 271.08 L557.20 270.47 L557.92 269.87 L558.64 269.27 L559.37 268.67 L560.00 268.15 L560.09 268.07 L560.81 267.47 L561.53 266.87 L562.26 266.26 L562.98 265.65 L563.70 265.04 L564.42 264.43 L565.15 263.82 L565.87 263.21 L566.59 262.60 L567.31 261.99 L568.04 261.39 L568.76 260.79 L569.48 260.19 L570.00 259.77 L570.20 259.60 L570.93 259.01 L571.65 258.40 L572.37 257.80 L573.09 257.19 L573.82 256.58 L574.54 255.98 L575.26 255.38 L575.98 254.79 L576.70 254.22 L577.43 253.65 L578.15 253.10 L578.87 252.57 L579.59 252.06 L580.00 251.78 L580.32 251.57 L581.04 251.10 L581.76 250.66 L582.48 250.23 L583.21 249.83 L583.93 249.44 L584.65 249.06 L585.37 248.69 L586.10 248.33 L586.82 247.98 L587.54 247.63 L588.26 247.28 L588.99 246.92 L589.71 246.57 L590.00 246.42 L590.43 246.20 L591.15 245.84 L591.88 245.48 L592.60 245.12 L593.32 244.77 L594.04 244.42 L594.77 244.07 L595.49 243.73 L596.21 243.39 L596.93 243.06 L597.66 242.74 L598.38 242.42 L599.10 242.11 L599.82 241.81 L600.00 241.73 L600.55 241.51 L601.27 241.24 L601.99 240.97 L602.71 240.72 L603.43 240.48 L604.16 240.25 L604.88 240.03 L605.60 239.81 L606.32 239.59 L607.05 239.37 L607.77 239.16 L608.49 238.94 L609.21 238.71 L609.94 238.48 L610.00 238.46 L610.66 238.24 L611.38 238.00 L612.10 237.76 L612.83 237.51 L613.55 237.26 L614.27 237.01 L614.99 236.77 L615.72 236.52 L616.44 236.28 L617.16 236.05 L617.88 235.82 L618.61 235.60 L619.33 235.39 L620.00 235.21 L620.05 235.19 L620.77 235.00 L621.50 234.82 L622.22 234.65 L622.94 234.48 L623.66 234.32 L624.39 234.17 L625.11 234.02 L625.83 233.88 L626.55 233.74 L627.28 233.61 L628.00 233.49 L628.72 233.37 L629.44 233.25 L630.16 233.14 L630.89 233.04 L631.61 232.93 L632.33 232.83 L633.05 232.73 L633.78 232.63 L634.50 232.54 L635.00 232.47 L635.22 232.45 L635.94 232.36 L636.67 232.27 L637.39 232.19 L638.11 232.12 L638.83 232.05 L639.56 231.98 L640.28 231.92 L641.00 231.86 L641.72 231.80 L642.45 231.75 L643.17 231.70 L643.89 231.66 L644.61 231.62 L645.34 231.58 L646.06 231.54 L646.78 231.51 L647.50 231.48 L648.23 231.45 L648.95 231.43 L649.67 231.41 L650.39 231.39 L651.12 231.37 L651.84 231.35 L652.56 231.34 L653.28 231.32 L654.01 231.31 L654.73 231.30 L655.00 231.30 L655.45 231.30 L656.17 231.29 L656.89 231.29 L657.62 231.30 L658.34 231.31 L659.06 231.32 L659.78 231.34 L660.51 231.36 L661.23 231.38 L661.95 231.40 L662.67 231.43 L663.40 231.46 L664.12 231.49 L664.84 231.53 L665.56 231.56 L666.29 231.60 L667.01 231.63 L667.73 231.67 L668.45 231.71 L669.18 231.75 L669.90 231.79 L670.62 231.82 L671.34 231.86 L672.07 231.90 L672.79 231.93 L673.51 231.96 L674.23 231.99 L674.40 232.00 L674.96 232.02 L675.68 232.05 L676.40 232.08 L677.12 232.12 L677.85 232.15 L678.57 232.18 L679.29 232.21 L680.01 232.24 L680.74 232.27 L681.46 232.30 L682.18 232.33 L682.90 232.36 L683.63 232.40 L684.35 232.43 L685.07 232.46 L685.79 232.49 L686.51 232.53 L687.24 232.56 L687.96 232.60 L688.68 232.63 L689.40 232.67 L690.13 232.70 L690.85 232.74 L691.57 232.78 L692.29 232.81 L693.02 232.85 L693.74 232.89 L693.90 232.90 L694.46 232.93 L695.18 232.97 L695.91 233.01 L696.63 233.05 L697.35 233.09 L698.07 233.14 L698.80 233.18 L699.52 233.22 L700.24 233.26 L700.96 233.31 L701.69 233.35 L702.41 233.40 L703.13 233.44 L703.85 233.49 L704.58 233.53 L705.30 233.58 L706.02 233.62 L706.74 233.67 L707.47 233.72 L708.19 233.77 L708.91 233.81 L709.63 233.86 L710.36 233.91 L711.08 233.96 L711.80 234.01" fill="none" stroke="#000" stroke-width="1.10" stroke-linejoin="round"/>
<path d="M409.10 383.70 L409.17 383.69 L409.23 383.68 L409.30 383.67 L409.37 383.67 L409.44 383.66 L409.50 383.65 L409.57 383.64 L409.64 383.63 L409.71 383.62 L409.77 383.61 L409.82 383.60 L409.84 383.60 L409.91 383.59 L409.97 383.58 L410.04 383.57 L410.11 383.56 L410.18 383.56 L410.24 383.55 L410.31 383.54 L410.38 383.53 L410.44 383.52 L410.51 383.51 L410.54 383.50 L410.58 383.50 L410.65 383.49 L410.71 383.48 L410.78 383.47 L410.85 383.46 L410.92 383.45 L410.98 383.44 L411.05 383.43 L411.12 383.42 L411.18 383.41 L411.25 383.40 L411.27 383.39 L411.32 383.38 L411.39 383.37 L411.45 383.36 L411.52 383.35 L411.59 383.34 L411.65 383.33 L411.72 383.32 L411.79 383.31 L411.86 383.30 L411.92 383.29 L411.99 383.28 L411.99 383.28 L412.06 383.26 L412.13 383.25 L412.19 383.24 L412.26 383.23 L412.33 383.22 L412.39 383.21 L412.46 383.20 L412.53 383.18 L412.60 383.17 L412.66 383.16 L412.71 383.15 L412.73 383.15 L412.80 383.14 L412.86 383.12 L412.93 383.11 L413.00 383.10 L413.00 383.10 L413.07 383.09 L413.13 383.08 L413.20 383.06 L413.27 383.05 L413.34 383.04 L413.40 383.03 L413.43 383.02 L413.47 383.01 L413.54 383.00 L413.60 382.99 L413.67 382.98 L413.74 382.96 L413.81 382.95 L413.87 382.94 L413.94 382.93 L414.01 382.91 L414.07 382.90 L414.14 382.89 L414.16 382.88 L414.21 382.87 L414.28 382.86 L414.34 382.85 L414.41 382.84 L414.48 382.82 L414.55 382.81 L414.61 382.80 L414.68 382.78 L414.75 382.77 L414.81 382.76 L414.88 382.74 L414.88 382.74 L414.95 382.73 L415.02 382.72 L415.08 382.70 L415.15 382.69 L415.22 382.67 L415.28 382.66 L415.35 382.65 L415.42 382.63 L415.49 382.62 L415.55 382.60 L415.60 382.59 L415.62 382.59 L415.69 382.58 L415.76 382.56 L415.82 382.55 L415.89 382.53 L415.96 382.52 L416.02 382.50 L416.09 382.49 L416.16 382.47 L416.23 382.46 L416.29 382.44 L416.32 382.43 L416.36 382.43 L416.43 382.41 L416.49 382.40 L416.56 382.38 L416.63 382.36 L416.70 382.35 L416.76 382.33 L416.83 382.32 L416.90 382.30 L416.97 382.28 L417.03 382.27 L417.05 382.26 L417.10 382.25 L417.30 382.20 L417.77 382.08 L418.49 381.90 L419.21 381.72 L419.94 381.51 L420.66 381.29 L421.38 381.03 L421.60 380.95 L422.10 380.75 L422.83 380.44 L423.55 380.11 L424.27 379.78 L424.99 379.43 L425.72 379.09 L425.90 379.00 L426.44 378.74 L427.16 378.40 L427.88 378.07 L428.61 377.73 L429.33 377.39 L430.05 377.06 L430.77 376.72 L431.50 376.38 L432.22 376.03 L432.94 375.68 L433.66 375.32 L434.39 374.95 L435.11 374.57 L435.83 374.18 L436.55 373.78 L437.27 373.37 L438.00 372.94 L438.72 372.49 L439.44 372.03 L440.00 371.66 L440.16 371.55 L440.89 371.07 L441.61 370.58 L442.33 370.09 L443.05 369.59 L443.78 369.10 L444.50 368.60 L445.22 368.11 L445.94 367.61 L446.67 367.10 L447.39 366.60 L448.11 366.10 L448.83 365.59 L449.56 365.08 L450.28 364.57 L451.00 364.05 L451.72 363.54 L452.45 363.02 L453.17 362.50 L453.89 361.98 L454.61 361.45 L455.34 360.93 L456.06 360.40 L456.78 359.87 L457.50 359.33 L458.23 358.80 L458.95 358.26 L459.67 357.72 L460.00 357.48 L460.39 357.18 L461.12 356.64 L461.84 356.09 L462.56 355.54 L463.28 354.99 L464.01 354.44 L464.73 353.88 L465.45 353.32 L466.17 352.76 L466.89 352.20 L467.62 351.64 L468.34 351.07 L469.06 350.50 L469.78 349.93 L470.51 349.35 L471.23 348.77 L471.95 348.19 L472.67 347.61 L473.40 347.03 L474.12 346.44 L474.84 345.85 L475.56 345.26 L476.29 344.66 L477.01 344.07 L477.73 343.47 L478.45 342.87 L479.18 342.26 L479.90 341.66 L480.00 341.57 L480.62 341.05 L481.34 340.44 L482.07 339.82 L482.79 339.21 L483.51 338.59 L484.23 337.97 L484.96 337.34 L485.68 336.72 L486.40 336.09 L487.12 335.46 L487.85 334.83 L488.57 334.19 L489.29 333.55 L490.01 332.92 L490.74 332.27 L491.46 331.63 L492.18 330.99 L492.90 330.34 L493.62 329.69 L494.35 329.04 L495.07 328.38 L495.79 327.73 L496.51 327.07 L497.24 326.41 L497.96 325.75 L498.68 325.09 L499.40 324.43 L500.00 323.88 L500.13 323.76 L500.85 323.10 L501.57 322.43 L502.29 321.76 L503.02 321.09 L503.74 320.42 L504.46 319.74 L505.18 319.07 L505.91 318.40 L506.63 317.72 L507.35 317.04 L508.07 316.36 L508.80 315.69 L509.52 315.01 L510.24 314.33 L510.96 313.65 L511.69 312.97 L512.41 312.29 L513.13 311.61 L513.85 310.93 L514.58 310.25 L515.30 309.56 L516.02 308.88 L516.74 308.20 L517.47 307.52 L518.19 306.84 L518.91 306.16 L519.63 305.48 L520.00 305.14 L520.35 304.81 L521.08 304.13 L521.80 303.45 L522.52 302.77 L523.24 302.10 L523.97 301.43 L524.69 300.75 L525.41 300.08 L526.13 299.41 L526.86 298.74 L527.58 298.07 L528.30 297.41 L529.02 296.74 L529.75 296.08 L530.00 295.84 L530.47 295.41 L531.19 294.75 L531.91 294.09 L532.64 293.43 L533.36 292.77 L534.08 292.11 L534.80 291.45 L535.53 290.79 L536.25 290.13 L536.97 289.48 L537.69 288.83 L538.42 288.18 L539.14 287.53 L539.86 286.89 L540.00 286.77 L540.58 286.25 L541.31 285.61 L542.03 284.98 L542.75 284.35 L543.47 283.72 L544.20 283.09 L544.92 282.47 L545.64 281.84 L546.36 281.22 L547.08 280.61 L547.81 279.99 L548.53 279.38 L549.25 278.77 L549.97 278.17 L550.00 278.15 L550.70 277.56 L551.42 276.96 L552.14 276.37 L552.86 275.77 L553.59 275.18 L554.31 274.59 L555.03 274.00 L555.75 273.42 L556.48 272.83 L557.20 272.26 L557.92 271.68 L558.64 271.11 L559.37 270.54 L560.00 270.05 L560.09 269.98 L560.81 269.41 L561.53 268.85 L562.26 268.30 L562.98 267.74 L563.70 267.19 L564.42 266.65 L565.15 266.10 L565.87 265.56 L566.59 265.02 L567.31 264.48 L568.04 263.95 L568.76 263.42 L569.48 262.89 L570.00 262.52 L570.20 262.37 L570.93 261.86 L571.65 261.35 L572.37 260.85 L573.09 260.36 L573.82 259.88 L574.54 259.40 L575.26 258.93 L575.98 258.47 L576.70 258.01 L577.43 257.56 L578.15 257.11 L578.87 256.67 L579.59 256.22 L580.00 255.98 L580.32 255.79 L581.04 255.37 L581.76 254.96 L582.48 254.57 L583.21 254.19 L583.93 253.82 L584.65 253.46 L585.37 253.11 L586.10 252.77 L586.82 252.44 L587.54 252.11 L588.26 251.79 L588.99 251.47 L589.71 251.15 L590.00 251.02 L590.43 250.83 L591.15 250.52 L591.88 250.23 L592.60 249.94 L593.32 249.66 L594.04 249.39 L594.77 249.13 L595.49 248.87 L596.21 248.61 L596.93 248.36 L597.66 248.12 L598.38 247.87 L599.10 247.63 L599.82 247.39 L600.00 247.33 L600.55 247.15 L601.27 246.91 L601.99 246.68 L602.71 246.45 L603.43 246.22 L604.16 246.00 L604.88 245.78 L605.60 245.57 L606.32 245.35 L607.05 245.15 L607.77 244.95 L608.49 244.75 L609.21 244.56 L609.94 244.38 L610.00 244.36 L610.66 244.20 L611.38 244.02 L612.10 243.86 L612.83 243.69 L613.55 243.54 L614.27 243.39 L614.99 243.24 L615.72 243.10 L616.44 242.96 L617.16 242.83 L617.88 242.70 L618.61 242.58 L619.33 242.46 L620.00 242.36 L620.05 242.35 L620.77 242.24 L621.50 242.14 L622.22 242.04 L622.94 241.96 L623.66 241.87 L624.39 241.79 L625.11 241.72 L625.83 241.65 L626.55 241.58 L627.28 241.52 L628.00 241.46 L628.72 241.40 L629.44 241.35 L630.16 241.30 L630.89 241.25 L631.61 241.20 L632.33 241.15 L633.05 241.10 L633.78 241.06 L634.50 241.01 L635.00 240.97 L635.22 240.96 L635.94 240.91 L636.67 240.86 L637.39 240.82 L638.11 240.77 L638.83 240.73 L639.56 240.69 L640.28 240.65 L641.00 240.61 L641.72 240.57 L642.45 240.53 L643.17 240.50 L643.89 240.46 L644.61 240.43 L645.34 240.40 L646.06 240.37 L646.78 240.35 L647.50 240.32 L648.23 240.30 L648.95 240.28 L649.67 240.26 L650.39 240.25 L651.12 240.23 L651.84 240.22 L652.56 240.21 L653.28 240.20 L654.01 240.20 L654.73 240.20 L655.00 240.20 L655.45 240.20 L656.17 240.21 L656.89 240.21 L657.62 240.23 L658.34 240.24 L659.06 240.26 L659.78 240.28 L660.51 240.30 L661.23 240.33 L661.95 240.36 L662.67 240.39 L663.40 240.42 L664.12 240.45 L664.84 240.48 L665.56 240.52 L666.29 240.56 L667.01 240.60 L667.73 240.63 L668.45 240.67 L669.18 240.71 L669.90 240.75 L670.62 240.80 L671.34 240.84 L672.07 240.88 L672.79 240.92 L673.51 240.95 L674.23 240.99 L674.40 241.00 L674.96 241.03 L675.68 241.07 L676.40 241.11 L677.12 241.15 L677.85 241.19 L678.57 241.23 L679.29 241.27 L680.01 241.31 L680.74 241.36 L681.46 241.40 L682.18 241.44 L682.90 241.49 L683.63 241.53 L684.35 241.58 L685.07 241.62 L685.79 241.67 L686.51 241.72 L687.24 241.76 L687.96 241.81 L688.68 241.86 L689.40 241.90 L690.13 241.95 L690.85 242.00 L691.57 242.05 L692.29 242.09 L693.02 242.14 L693.74 242.19 L693.90 242.20 L694.46 242.24 L695.18 242.29 L695.91 242.34 L696.63 242.38 L697.35 242.43 L698.07 242.48 L698.80 242.53 L699.52 242.58 L700.24 242.63 L700.96 242.68 L701.69 242.73 L702.41 242.78 L703.13 242.83 L703.85 242.88 L704.58 242.94 L705.30 242.99 L706.02 243.04 L706.74 243.09 L707.47 243.14 L708.19 243.20 L708.91 243.25 L709.63 243.30 L710.36 243.35 L711.08 243.41 L711.80 243.46" fill="none" stroke="#000" stroke-width="1.10" stroke-linejoin="round"/>
<path d="M409.10 394.10 L409.17 394.05 L409.23 394.00 L409.30 393.95 L409.37 393.90 L409.44 393.85 L409.50 393.80 L409.57 393.75 L409.64 393.70 L409.71 393.65 L409.77 393.59 L409.82 393.56 L409.84 393.54 L409.91 393.49 L409.97 393.44 L410.04 393.39 L410.11 393.34 L410.18 393.29 L410.24 393.24 L410.31 393.19 L410.38 393.14 L410.44 393.08 L410.51 393.03 L410.54 393.01 L410.58 392.98 L410.65 392.93 L410.71 392.88 L410.78 392.83 L410.85 392.78 L410.92 392.72 L410.98 392.67 L411.05 392.62 L411.12 392.57 L411.18 392.52 L411.25 392.47 L411.27 392.45 L411.32 392.41 L411.39 392.36 L411.45 392.31 L411.52 392.26 L411.59 392.21 L411.65 392.15 L411.72 392.10 L411.79 392.05 L411.86 392.00 L411.92 391.94 L411.99 391.89 L411.99 391.89 L412.06 391.84 L412.13 391.79 L412.19 391.73 L412.26 391.68 L412.33 391.63 L412.39 391.58 L412.46 391.52 L412.53 391.47 L412.60 391.42 L412.66 391.37 L412.71 391.33 L412.73 391.31 L412.80 391.26 L412.86 391.21 L412.93 391.15 L413.00 391.10 L413.00 391.10 L413.07 391.05 L413.13 390.99 L413.20 390.94 L413.27 390.89 L413.34 390.83 L413.40 390.78 L413.43 390.76 L413.47 390.73 L413.54 390.67 L413.60 390.62 L413.67 390.57 L413.74 390.51 L413.81 390.46 L413.87 390.40 L413.94 390.35 L414.01 390.30 L414.07 390.24 L414.14 390.19 L414.16 390.18 L414.21 390.13 L414.28 390.08 L414.34 390.03 L414.41 389.97 L414.48 389.92 L414.55 389.86 L414.61 389.81 L414.68 389.75 L414.75 389.70 L414.81 389.64 L414.88 389.59 L414.88 389.59 L414.95 389.53 L415.02 389.48 L415.08 389.42 L415.15 389.37 L415.22 389.31 L415.28 389.26 L415.35 389.20 L415.42 389.15 L415.49 389.09 L415.55 389.04 L415.60 389.00 L415.62 388.98 L415.69 388.93 L415.76 388.87 L415.82 388.82 L415.89 388.76 L415.96 388.71 L416.02 388.65 L416.09 388.60 L416.16 388.54 L416.23 388.49 L416.29 388.43 L416.32 388.40 L416.36 388.38 L416.43 388.32 L416.49 388.26 L416.56 388.21 L416.63 388.15 L416.70 388.10 L416.76 388.04 L416.83 387.99 L416.90 387.93 L416.97 387.88 L417.03 387.82 L417.05 387.81 L417.10 387.77 L417.30 387.60 L417.77 387.21 L418.49 386.61 L419.21 386.01 L419.94 385.40 L420.66 384.80 L421.38 384.19 L421.60 384.00 L422.10 383.57 L422.83 382.93 L423.55 382.29 L424.27 381.65 L424.99 381.03 L425.72 380.44 L425.90 380.30 L426.44 379.88 L427.16 379.32 L427.88 378.77 L428.61 378.24 L429.33 377.75 L429.40 377.70 L430.05 377.28 L430.77 376.81 L431.50 376.34 L432.22 375.87 L432.94 375.39 L433.66 374.92 L434.39 374.45 L435.11 373.97 L435.83 373.49 L436.55 373.01 L437.27 372.53 L438.00 372.05 L438.72 371.57 L439.44 371.09 L440.00 370.71 L440.16 370.60 L440.89 370.12 L441.61 369.63 L442.33 369.14 L443.05 368.64 L443.78 368.15 L444.50 367.65 L445.22 367.16 L445.94 366.66 L446.67 366.15 L447.39 365.65 L448.11 365.15 L448.83 364.64 L449.56 364.13 L450.28 363.62 L451.00 363.10 L451.72 362.59 L452.45 362.07 L453.17 361.55 L453.89 361.03 L454.61 360.50 L455.34 359.98 L456.06 359.45 L456.78 358.92 L457.50 358.38 L458.23 357.85 L458.95 357.31 L459.67 356.77 L460.00 356.53 L460.39 356.23 L461.12 355.69 L461.84 355.14 L462.56 354.59 L463.28 354.04 L464.01 353.49 L464.73 352.93 L465.45 352.37 L466.17 351.81 L466.89 351.25 L467.62 350.69 L468.34 350.12 L469.06 349.55 L469.78 348.98 L470.51 348.40 L471.23 347.82 L471.95 347.24 L472.67 346.66 L473.40 346.08 L474.12 345.49 L474.84 344.90 L475.56 344.31 L476.29 343.71 L477.01 343.12 L477.73 342.52 L478.45 341.92 L479.18 341.31 L479.90 340.71 L480.00 340.62 L480.62 340.10 L481.34 339.49 L482.07 338.87 L482.79 338.26 L483.51 337.64 L484.23 337.02 L484.96 336.39 L485.68 335.77 L486.40 335.14 L487.12 334.51 L487.85 333.88 L488.57 333.24 L489.29 332.60 L490.01 331.97 L490.74 331.32 L491.46 330.68 L492.18 330.04 L492.90 329.39 L493.62 328.74 L494.35 328.09 L495.07 327.43 L495.79 326.78 L496.51 326.12 L497.24 325.46 L497.96 324.80 L498.68 324.14 L499.40 323.48 L500.00 322.93 L500.13 322.81 L500.85 322.15 L501.57 321.48 L502.29 320.81 L503.02 320.14 L503.74 319.47 L504.46 318.79 L505.18 318.12 L505.91 317.45 L506.63 316.77 L507.35 316.09 L508.07 315.41 L508.80 314.74 L509.52 314.06 L510.24 313.38 L510.96 312.70 L511.69 312.02 L512.41 311.34 L513.13 310.66 L513.85 309.98 L514.58 309.30 L515.30 308.61 L516.02 307.93 L516.74 307.25 L517.47 306.57 L518.19 305.89 L518.91 305.21 L519.63 304.53 L520.00 304.19 L520.35 303.86 L521.08 303.18 L521.80 302.50 L522.52 301.82 L523.24 301.15 L523.97 300.48 L524.69 299.80 L525.41 299.13 L526.13 298.46 L526.86 297.79 L527.58 297.12 L528.30 296.46 L529.02 295.79 L529.75 295.13 L530.00 294.89 L530.47 294.46 L531.19 293.80 L531.91 293.13 L532.64 292.46 L533.36 291.80 L534.08 291.13 L534.80 290.46 L535.53 289.79 L536.25 289.12 L536.97 288.45 L537.69 287.78 L538.42 287.12 L539.14 286.45 L539.86 285.80 L540.00 285.67 L540.58 285.14 L541.31 284.48 L542.03 283.82 L542.75 283.16 L543.47 282.51 L544.20 281.85 L544.92 281.20 L545.64 280.54 L546.36 279.89 L547.08 279.24 L547.81 278.59 L548.53 277.95 L549.25 277.31 L549.97 276.67 L550.00 276.65 L550.70 276.03 L551.42 275.40 L552.14 274.77 L552.86 274.15 L553.59 273.53 L554.31 272.91 L555.03 272.29 L555.75 271.67 L556.48 271.05 L557.20 270.44 L557.92 269.82 L558.64 269.20 L559.37 268.59 L560.00 268.05 L560.09 267.97 L560.81 267.35 L561.53 266.72 L562.26 266.09 L562.98 265.46 L563.70 264.82 L564.42 264.18 L565.15 263.55 L565.87 262.91 L566.59 262.27 L567.31 261.63 L568.04 260.99 L568.76 260.35 L569.48 259.72 L570.00 259.27 L570.20 259.09 L570.93 258.46 L571.65 257.82 L572.37 257.18 L573.09 256.54 L573.82 255.90 L574.54 255.26 L575.26 254.62 L575.98 253.98 L576.70 253.35 L577.43 252.73 L578.15 252.11 L578.87 251.51 L579.59 250.91 L580.00 250.58 L580.32 250.32 L581.04 249.73 L581.76 249.15 L582.48 248.56 L583.21 247.98 L583.93 247.40 L584.65 246.83 L585.37 246.26 L586.10 245.71 L586.82 245.16 L587.54 244.63 L588.26 244.11 L588.99 243.60 L589.71 243.11 L590.00 242.92 L590.43 242.64 L591.15 242.17 L591.88 241.70 L592.60 241.24 L593.32 240.77 L594.04 240.31 L594.77 239.86 L595.49 239.40 L596.21 238.95 L596.93 238.50 L597.66 238.06 L598.38 237.62 L599.10 237.18 L599.82 236.74 L600.00 236.63 L600.55 236.31 L601.27 235.89 L601.99 235.47 L602.71 235.07 L603.43 234.68 L604.16 234.29 L604.88 233.91 L605.60 233.54 L606.32 233.17 L607.05 232.81 L607.77 232.45 L608.49 232.10 L609.21 231.74 L609.94 231.39 L610.00 231.36 L610.66 231.05 L611.38 230.71 L612.10 230.39 L612.83 230.08 L613.55 229.78 L614.27 229.49 L614.99 229.21 L615.72 228.93 L616.44 228.66 L617.16 228.39 L617.88 228.12 L618.61 227.86 L619.33 227.60 L620.00 227.36 L620.05 227.34 L620.77 227.08 L621.50 226.83 L622.22 226.59 L622.94 226.35 L623.66 226.12 L624.39 225.89 L625.11 225.67 L625.83 225.45 L626.55 225.24 L627.28 225.02 L628.00 224.81 L628.72 224.61 L629.44 224.40 L630.16 224.19 L630.89 223.98 L631.61 223.78 L632.33 223.57 L633.05 223.36 L633.78 223.14 L634.50 222.93 L635.00 222.77 L635.22 222.71 L635.94 222.48 L636.67 222.26 L637.39 222.03 L638.11 221.81 L638.83 221.58 L639.56 221.35 L640.28 221.12 L641.00 220.89 L641.72 220.67 L642.45 220.44 L643.17 220.21 L643.89 219.98 L644.61 219.75 L645.34 219.53 L646.06 219.30 L646.78 219.08 L647.50 218.86 L648.23 218.64 L648.95 218.42 L649.67 218.20 L650.39 217.99 L651.12 217.78 L651.84 217.57 L652.56 217.37 L653.28 217.16 L654.01 216.97 L654.73 216.77 L655.00 216.70 L655.45 216.58 L656.17 216.39 L656.89 216.21 L657.62 216.03 L658.34 215.85 L659.06 215.67 L659.78 215.49 L660.51 215.32 L661.23 215.15 L661.95 214.98 L662.67 214.82 L663.40 214.66 L664.12 214.50 L664.84 214.34 L665.56 214.18 L666.29 214.02 L667.01 213.87 L667.73 213.72 L668.45 213.57 L669.18 213.42 L669.90 213.28 L670.62 213.13 L671.34 212.99 L672.07 212.85 L672.79 212.71 L673.51 212.57 L674.23 212.43 L674.40 212.40 L674.96 212.30 L675.68 212.16 L676.40 212.03 L677.12 211.91 L677.85 211.78 L678.57 211.66 L679.29 211.54 L680.01 211.42 L680.74 211.30 L681.46 211.19 L682.18 211.08 L682.90 210.97 L683.63 210.86 L684.35 210.75 L685.07 210.64 L685.79 210.54 L686.51 210.43 L687.24 210.33 L687.96 210.23 L688.68 210.13 L689.40 210.02 L690.13 209.92 L690.85 209.82 L691.57 209.72 L692.29 209.62 L693.02 209.52 L693.74 209.42 L693.90 209.40 L694.46 209.32 L695.18 209.22 L695.91 209.13 L696.63 209.03 L697.35 208.93 L698.07 208.84 L698.80 208.74 L699.52 208.65 L700.24 208.55 L700.96 208.46 L701.69 208.37 L702.41 208.28 L703.13 208.19 L703.85 208.10 L704.58 208.01 L705.30 207.92 L706.02 207.83 L706.74 207.74 L707.47 207.66 L708.19 207.57 L708.91 207.49 L709.63 207.41 L710.36 207.32 L711.08 207.24 L711.80 207.16" fill="none" stroke="#000" stroke-width="1.10" stroke-linejoin="round"/>
<path d="M408.95 462.40 L409.02 460.87 L409.08 459.37 L409.15 457.93 L409.22 456.53 L409.25 455.90 L409.29 455.19 L409.35 453.93 L409.42 452.72 L409.49 451.52 L409.56 450.27 L409.60 449.40 L409.62 448.95 L409.67 447.86 L409.69 447.49 L409.76 445.97 L409.82 444.50 L409.89 443.16 L409.90 443.00 L409.96 441.97 L410.03 440.81 L410.09 439.70 L410.16 438.67 L410.23 437.73 L410.29 436.89 L410.33 436.50 L410.36 436.17 L410.40 435.84 L410.43 435.54 L410.50 434.96 L410.56 434.43 L410.63 433.94 L410.70 433.48 L410.77 433.03 L410.83 432.59 L410.90 432.14 L410.97 431.68 L411.03 431.19 L411.10 430.67 L411.12 430.52 L411.17 430.09 L411.20 429.80 L411.24 429.44 L411.30 428.69 L411.37 427.87 L411.44 427.03 L411.50 426.22 L411.57 425.48 L411.60 425.20 L411.64 424.84 L411.71 424.25 L411.77 423.68 L411.84 423.15 L411.84 423.14 L411.91 422.63 L411.98 422.14 L412.04 421.65 L412.11 421.18 L412.15 420.90 L412.18 420.71 L412.24 420.26 L412.31 419.81 L412.38 419.37 L412.45 418.95 L412.51 418.53 L412.56 418.22 L412.58 418.12 L412.65 417.72 L412.71 417.32 L412.78 416.93 L412.84 416.60 L412.85 416.55 L412.92 416.17 L412.98 415.79 L413.05 415.42 L413.12 415.06 L413.19 414.70 L413.25 414.34 L413.29 414.16 L413.32 413.99 L413.39 413.64 L413.45 413.31 L413.52 412.97 L413.59 412.64 L413.66 412.32 L413.66 412.30 L413.72 412.00 L413.79 411.69 L413.86 411.39 L413.92 411.09 L413.99 410.79 L414.01 410.71 L414.06 410.50 L414.13 410.21 L414.19 409.92 L414.26 409.64 L414.33 409.36 L414.40 409.07 L414.46 408.79 L414.53 408.51 L414.60 408.23 L414.65 408.00 L414.66 407.94 L414.73 407.65 L414.73 407.65 L414.80 407.36 L414.87 407.07 L414.93 406.77 L415.00 406.48 L415.07 406.18 L415.13 405.89 L415.20 405.60 L415.27 405.32 L415.34 405.03 L415.40 404.76 L415.46 404.55 L415.47 404.48 L415.54 404.21 L415.61 403.95 L415.67 403.70 L415.70 403.60 L415.74 403.45 L415.81 403.21 L415.87 402.97 L415.94 402.74 L416.01 402.51 L416.08 402.28 L416.14 402.05 L416.18 401.93 L416.21 401.83 L416.28 401.61 L416.34 401.39 L416.41 401.17 L416.48 400.96 L416.55 400.75 L416.61 400.54 L416.68 400.34 L416.75 400.13 L416.82 399.93 L416.88 399.73 L416.90 399.68 L416.95 399.53 L417.03 399.30 L417.62 397.62 L418.35 395.75 L418.67 395.00 L419.07 394.12 L419.79 392.58 L420.51 391.16 L421.24 389.93 L421.60 389.40 L421.96 388.93 L422.68 388.06 L423.41 387.26 L424.13 386.50 L424.85 385.75 L425.57 384.97 L425.90 384.60 L426.30 384.13 L427.02 383.25 L427.74 382.34 L428.47 381.44 L429.19 380.56 L429.91 379.72 L430.20 379.40 L430.63 378.93 L431.36 378.13 L432.08 377.35 L432.80 376.59 L433.52 375.89 L434.25 375.27 L434.60 375.00 L434.97 374.73 L435.69 374.21 L436.42 373.70 L437.14 373.18 L437.86 372.68 L438.58 372.18 L439.31 371.68 L440.00 371.21 L440.03 371.19 L440.75 370.71 L441.48 370.22 L442.20 369.73 L442.92 369.24 L443.64 368.74 L444.37 368.25 L445.09 367.75 L445.81 367.25 L446.54 366.75 L447.26 366.24 L447.98 365.74 L448.70 365.23 L449.43 364.72 L450.15 364.21 L450.87 363.69 L451.59 363.18 L452.32 362.66 L453.04 362.14 L453.76 361.62 L454.49 361.10 L455.21 360.57 L455.93 360.04 L456.65 359.51 L457.38 358.98 L458.10 358.44 L458.82 357.91 L459.55 357.37 L460.00 357.03 L460.27 356.82 L460.99 356.28 L461.71 355.73 L462.44 355.19 L463.16 354.63 L463.88 354.08 L464.61 353.53 L465.33 352.97 L466.05 352.41 L466.77 351.84 L467.50 351.28 L468.22 350.71 L468.94 350.14 L469.66 349.57 L470.39 349.00 L471.11 348.42 L471.83 347.84 L472.56 347.26 L473.28 346.67 L474.00 346.09 L474.72 345.50 L475.45 344.90 L476.17 344.31 L476.89 343.71 L477.62 343.11 L478.34 342.51 L479.06 341.91 L479.78 341.30 L480.00 341.12 L480.51 340.69 L481.23 340.08 L481.95 339.47 L482.67 338.85 L483.40 338.23 L484.12 337.61 L484.84 336.99 L485.57 336.36 L486.29 335.74 L487.01 335.11 L487.73 334.47 L488.46 333.84 L489.18 333.20 L489.90 332.56 L490.63 331.92 L491.35 331.28 L492.07 330.63 L492.79 329.99 L493.52 329.34 L494.24 328.68 L494.96 328.03 L495.69 327.38 L496.41 326.72 L497.13 326.06 L497.85 325.40 L498.58 324.74 L499.30 324.07 L500.00 323.43 L500.02 323.41 L500.74 322.74 L501.47 322.07 L502.19 321.41 L502.91 320.73 L503.64 320.06 L504.36 319.39 L505.08 318.72 L505.80 318.04 L506.53 317.36 L507.25 316.69 L507.97 316.01 L508.70 315.33 L509.42 314.65 L510.14 313.97 L510.86 313.29 L511.59 312.61 L512.31 311.93 L513.03 311.25 L513.75 310.57 L514.48 309.89 L515.20 309.21 L515.92 308.52 L516.65 307.84 L517.37 307.16 L518.09 306.48 L518.81 305.80 L519.54 305.12 L520.00 304.69 L520.26 304.44 L520.98 303.77 L521.71 303.09 L522.43 302.41 L523.15 301.74 L523.87 301.06 L524.60 300.39 L525.32 299.72 L526.04 299.04 L526.77 298.38 L527.49 297.71 L528.21 297.04 L528.93 296.37 L529.66 295.71 L530.00 295.39 L530.38 295.05 L531.10 294.38 L531.82 293.72 L532.55 293.05 L533.27 292.38 L533.99 291.71 L534.72 291.04 L535.44 290.38 L536.16 289.72 L536.88 289.06 L537.61 288.40 L538.33 287.75 L539.05 287.10 L539.78 286.47 L540.00 286.27 L540.50 285.83 L541.22 285.20 L541.94 284.57 L542.67 283.95 L543.39 283.32 L544.11 282.70 L544.83 282.09 L545.56 281.47 L546.28 280.86 L547.00 280.25 L547.73 279.64 L548.45 279.04 L549.17 278.43 L549.89 277.83 L550.00 277.75 L550.62 277.24 L551.34 276.64 L552.06 276.05 L552.79 275.45 L553.51 274.86 L554.23 274.27 L554.95 273.69 L555.68 273.10 L556.40 272.52 L557.12 271.94 L557.85 271.36 L558.57 270.78 L559.29 270.21 L560.00 269.65 L560.01 269.63 L560.74 269.06 L561.46 268.48 L562.18 267.90 L562.90 267.32 L563.63 266.74 L564.35 266.15 L565.07 265.57 L565.80 264.99 L566.52 264.41 L567.24 263.83 L567.96 263.26 L568.69 262.69 L569.41 262.12 L570.00 261.67 L570.13 261.57 L570.86 261.01 L571.58 260.46 L572.30 259.90 L573.02 259.35 L573.75 258.80 L574.47 258.26 L575.19 257.72 L575.92 257.18 L576.64 256.65 L577.36 256.13 L578.08 255.61 L578.81 255.10 L579.53 254.60 L580.00 254.28 L580.25 254.11 L580.97 253.63 L581.70 253.15 L582.42 252.68 L583.14 252.22 L583.87 251.76 L584.59 251.30 L585.31 250.85 L586.03 250.41 L586.76 249.97 L587.48 249.53 L588.20 249.09 L588.93 248.66 L589.65 248.23 L590.00 248.02 L590.37 247.80 L591.09 247.38 L591.82 246.95 L592.54 246.54 L593.26 246.13 L593.98 245.72 L594.71 245.32 L595.43 244.92 L596.15 244.53 L596.88 244.15 L597.60 243.76 L598.32 243.39 L599.04 243.02 L599.77 242.65 L600.00 242.53 L600.49 242.29 L601.21 241.95 L601.94 241.61 L602.66 241.30 L603.38 240.99 L604.10 240.69 L604.83 240.40 L605.55 240.12 L606.27 239.84 L607.00 239.57 L607.72 239.30 L608.44 239.03 L609.16 238.77 L609.89 238.50 L610.00 238.46 L610.61 238.24 L611.33 237.98 L612.05 237.73 L612.78 237.49 L613.50 237.25 L614.22 237.02 L614.95 236.79 L615.67 236.56 L616.39 236.34 L617.11 236.11 L617.84 235.89 L618.56 235.66 L619.28 235.43 L620.00 235.21 L620.01 235.21 L620.73 234.98 L621.45 234.74 L622.17 234.51 L622.90 234.28 L623.62 234.05 L624.34 233.83 L625.06 233.60 L625.79 233.37 L626.51 233.14 L627.23 232.92 L627.96 232.69 L628.68 232.47 L629.40 232.24 L630.12 232.02 L630.85 231.80 L631.57 231.58 L632.29 231.37 L633.02 231.15 L633.74 230.94 L634.46 230.73 L635.00 230.57 L635.18 230.52 L635.91 230.31 L636.63 230.11 L637.35 229.91 L638.08 229.71 L638.80 229.51 L639.52 229.31 L640.24 229.11 L640.97 228.92 L641.69 228.72 L642.41 228.53 L643.13 228.34 L643.86 228.15 L644.58 227.96 L645.30 227.77 L646.03 227.59 L646.75 227.40 L647.47 227.22 L648.19 227.03 L648.92 226.85 L649.64 226.66 L650.36 226.48 L651.09 226.29 L651.81 226.11 L652.53 225.93 L653.25 225.74 L653.98 225.56 L654.70 225.38 L655.00 225.30 L655.42 225.19 L656.14 225.01 L656.87 224.82 L657.59 224.63 L658.31 224.45 L659.04 224.26 L659.76 224.07 L660.48 223.88 L661.20 223.69 L661.93 223.50 L662.65 223.31 L663.37 223.13 L664.10 222.94 L664.82 222.76 L665.54 222.57 L666.26 222.39 L666.99 222.21 L667.71 222.03 L668.43 221.85 L669.16 221.68 L669.88 221.51 L670.60 221.34 L671.32 221.17 L672.05 221.01 L672.77 220.85 L673.49 220.69 L674.21 220.54 L674.40 220.50 L674.94 220.39 L675.66 220.25 L676.38 220.10 L677.11 219.97 L677.83 219.83 L678.55 219.70 L679.27 219.58 L680.00 219.45 L680.72 219.33 L681.44 219.21 L682.17 219.09 L682.89 218.98 L683.61 218.86 L684.33 218.75 L685.06 218.64 L685.78 218.53 L686.50 218.43 L687.23 218.32 L687.95 218.22 L688.67 218.11 L689.39 218.01 L690.12 217.90 L690.84 217.80 L691.56 217.69 L692.28 217.59 L693.01 217.48 L693.73 217.38 L693.90 217.35 L694.45 217.27 L695.18 217.16 L695.90 217.06 L696.62 216.95 L697.34 216.85 L698.07 216.75 L698.79 216.64 L699.51 216.54 L700.24 216.44 L700.96 216.34 L701.68 216.24 L702.40 216.14 L703.13 216.04 L703.85 215.94 L704.57 215.85 L705.29 215.75 L706.02 215.65 L706.74 215.56 L707.46 215.46 L708.19 215.37 L708.91 215.28 L709.63 215.18 L710.35 215.09 L711.08 215.00 L711.80 214.91" fill="none" stroke="#000" stroke-width="1.10" stroke-linejoin="round"/>
<path d="M250.40 844.77 L251.74 846.19 L253.08 847.58 L254.42 848.96 L255.00 849.55 L255.76 850.31 L257.10 851.65 L258.44 852.96 L259.78 854.25 L260.00 854.46 L261.12 855.51 L262.46 856.75 L263.80 857.97 L265.00 859.03 L265.14 859.15 L266.48 860.32 L267.82 861.46 L269.15 862.57 L270.00 863.26 L270.49 863.66 L271.83 864.72 L273.17 865.75 L274.51 866.75 L275.00 867.11 L275.85 867.73 L277.19 868.67 L278.53 869.59 L279.87 870.47 L280.00 870.56 L281.21 871.33 L282.55 872.16 L283.89 872.95 L285.00 873.59 L285.23 873.72 L286.57 874.45 L287.91 875.15 L289.25 875.82 L290.00 876.19 L290.59 876.46 L291.93 877.07 L293.27 877.64 L294.61 878.19 L295.00 878.34 L295.95 878.69 L297.29 879.17 L298.63 879.61 L299.97 880.02 L300.00 880.03 L301.31 880.40 L302.65 880.74 L303.98 881.05 L305.00 881.26 L305.32 881.32 L306.66 881.57 L308.00 881.79 L309.34 881.98 L310.00 882.06 L310.68 882.14 L312.02 882.26 L313.36 882.36 L314.70 882.43 L315.00 882.44 L316.04 882.47 L317.38 882.49 L318.72 882.48 L320.00 882.45 L320.06 882.45 L321.40 882.38 L322.74 882.30 L324.08 882.18 L325.00 882.09 L325.42 882.05 L326.76 881.89 L328.10 881.70 L329.44 881.50 L330.00 881.40 L330.78 881.27 L332.12 881.02 L333.46 880.75 L334.80 880.46 L335.00 880.42 L336.14 880.15 L337.48 879.82 L338.81 879.47 L340.00 879.15 L340.15 879.10 L341.49 878.72 L342.83 878.32 L344.17 877.91 L345.00 877.64 L345.51 877.47 L346.85 877.02 L348.19 876.56 L349.53 876.07 L350.00 875.90 L350.87 875.58 L352.21 875.07 L353.55 874.55 L354.89 874.01 L355.00 873.97 L356.23 873.46 L357.57 872.89 L358.91 872.31 L360.00 871.82 L360.25 871.70 L361.59 871.08 L362.93 870.45 L364.27 869.80 L365.00 869.44 L365.61 869.14 L366.95 868.46 L368.29 867.79 L369.63 867.11 L370.97 866.43 L372.31 865.75 L373.64 865.06 L374.98 864.37 L376.32 863.68 L377.66 862.98 L379.00 862.29 L380.00 861.76 L380.34 861.58 L381.68 860.88 L383.02 860.17 L384.36 859.46 L385.70 858.75 L387.04 858.03 L388.38 857.31 L389.72 856.59 L391.06 855.86 L392.40 855.13 L393.74 854.40 L395.08 853.66 L396.42 852.92 L397.76 852.17 L399.10 851.43 L400.44 850.68 L401.78 849.92 L403.12 849.16 L404.46 848.40 L405.80 847.64 L407.14 846.87 L408.47 846.10 L409.81 845.32 L411.15 844.54 L412.49 843.76 L413.83 842.97 L415.17 842.18 L416.51 841.39 L417.85 840.59 L419.19 839.79 L420.00 839.30 L420.53 838.98 L421.87 838.17 L423.21 837.36 L424.55 836.54 L425.89 835.72 L427.23 834.89 L428.57 834.06 L429.91 833.23 L431.25 832.39 L432.59 831.54 L433.93 830.70 L435.27 829.85 L436.61 828.99 L437.95 828.13 L439.29 827.27 L440.63 826.40 L441.97 825.53 L443.31 824.66 L444.64 823.78 L445.98 822.89 L447.32 822.01 L448.66 821.11 L450.00 820.22 L451.34 819.32 L452.68 818.41 L454.02 817.50 L455.36 816.59 L456.70 815.67 L458.04 814.75 L459.38 813.82 L460.00 813.39 L460.72 812.89 L462.06 811.96 L463.40 811.02 L464.74 810.08 L466.08 809.13 L467.42 808.18 L468.76 807.22 L470.10 806.26 L471.44 805.30 L472.78 804.33 L474.12 803.36 L475.46 802.39 L476.80 801.41 L478.14 800.43 L479.47 799.44 L480.81 798.45 L482.15 797.46 L483.49 796.46 L484.83 795.46 L486.17 794.46 L487.51 793.45 L488.85 792.44 L490.19 791.42 L491.53 790.41 L492.87 789.39 L494.21 788.36 L495.55 787.34 L496.89 786.31 L498.23 785.27 L499.57 784.24 L500.00 783.91 L500.91 783.20 L502.25 782.16 L503.59 781.12 L504.93 780.07 L506.27 779.03 L507.61 777.98 L508.95 776.93 L510.29 775.88 L511.63 774.82 L512.97 773.76 L514.30 772.71 L515.64 771.65 L516.98 770.59 L518.32 769.52 L519.66 768.46 L521.00 767.40 L522.34 766.33 L523.68 765.27 L525.02 764.20 L526.36 763.14 L527.70 762.07 L529.04 761.00 L530.38 759.94 L531.72 758.87 L533.06 757.80 L534.40 756.74 L535.74 755.67 L537.08 754.61 L538.42 753.54 L539.76 752.48 L540.00 752.29 L541.10 751.42 L542.44 750.35 L543.78 749.29 L545.12 748.24 L546.46 747.18 L547.80 746.12 L549.13 745.07 L550.47 744.02 L551.81 742.97 L553.15 741.92 L554.49 740.87 L555.83 739.83 L557.17 738.79 L558.51 737.75 L559.85 736.71 L561.19 735.68 L562.53 734.65 L563.87 733.62 L565.21 732.60 L566.55 731.57 L567.89 730.56 L569.23 729.54 L570.57 728.53 L571.91 727.52 L573.25 726.52 L574.59 725.51 L575.93 724.52 L577.27 723.52 L578.61 722.53 L579.95 721.55 L580.00 721.51 L581.29 720.57 L582.63 719.59 L583.96 718.61 L585.30 717.64 L586.64 716.68 L587.98 715.72 L589.32 714.76 L590.66 713.81 L592.00 712.86 L593.34 711.92 L594.68 710.98 L596.02 710.04 L597.36 709.11 L598.70 708.18 L600.04 707.26 L601.38 706.34 L602.72 705.43 L604.06 704.52 L605.40 703.62 L606.74 702.72 L608.08 701.83 L609.42 700.94 L610.76 700.05 L612.10 699.17 L613.44 698.30 L614.78 697.43 L616.12 696.56 L617.46 695.70 L618.79 694.84 L620.00 694.07 L620.13 693.99 L621.47 693.14 L622.81 692.30 L624.15 691.46 L625.49 690.62 L626.83 689.79 L628.17 688.97 L629.51 688.15 L630.85 687.33 L632.19 686.52 L633.53 685.71 L634.87 684.91 L636.21 684.11 L637.55 683.31 L638.89 682.52 L640.00 681.87 L640.23 681.74 L641.57 680.95 L642.91 680.18 L644.25 679.40 L645.59 678.63 L646.93 677.87 L648.27 677.11 L649.61 676.35 L650.95 675.60 L652.29 674.85 L653.63 674.11 L654.96 673.36 L656.30 672.63 L657.64 671.89 L658.98 671.17 L660.00 670.61 L660.32 670.44 L661.66 669.72 L663.00 669.01 L664.34 668.30 L665.68 667.60 L667.02 666.90 L668.36 666.21 L669.70 665.52 L671.04 664.84 L672.38 664.17 L673.72 663.49 L675.06 662.83 L676.40 662.16 L677.74 661.50 L679.08 660.85 L680.00 660.40 L680.42 660.20 L681.76 659.56 L683.10 658.93 L684.44 658.30 L685.78 657.69 L687.12 657.08 L688.46 656.48 L689.79 655.89 L691.13 655.30 L692.47 654.72 L693.81 654.14 L695.15 653.57 L696.49 653.00 L697.83 652.43 L699.17 651.87 L700.00 651.52 L700.51 651.30 L701.85 650.74 L703.19 650.18 L704.53 649.63 L705.87 649.09 L707.21 648.54 L708.55 648.00 L709.89 647.47 L711.23 646.94 L712.57 646.41 L713.91 645.89 L715.25 645.37 L716.59 644.85 L717.93 644.34 L719.27 643.83 L720.00 643.55 L720.61 643.32 L721.95 642.82 L723.29 642.32 L724.62 641.82 L725.96 641.32 L727.30 640.83 L728.64 640.34 L729.98 639.86 L731.32 639.38 L732.66 638.91 L734.00 638.44 L735.34 637.98 L736.68 637.52 L738.02 637.07 L739.36 636.62 L740.00 636.41 L740.70 636.19 L742.04 635.76 L743.38 635.34 L744.72 634.93 L746.06 634.53 L747.40 634.13 L748.74 633.75 L750.08 633.37 L751.42 632.99 L752.76 632.62 L754.10 632.26 L755.44 631.90 L756.78 631.55 L758.12 631.20 L759.45 630.86 L760.79 630.52 L762.13 630.18 L763.47 629.85 L764.81 629.52 L765.00 629.47 L766.15 629.19 L767.49 628.87 L768.83 628.56 L770.17 628.25 L771.51 627.95 L772.85 627.65 L774.19 627.37 L775.53 627.08 L776.87 626.80 L778.21 626.53 L779.55 626.25 L780.89 625.99 L782.23 625.72 L783.57 625.46 L784.91 625.20 L786.25 624.94 L787.59 624.68 L788.93 624.42 L790.00 624.22 L790.27 624.16 L791.61 623.91 L792.95 623.66 L794.28 623.41 L795.62 623.16 L796.96 622.92 L798.30 622.68 L799.64 622.44 L800.98 622.20 L802.32 621.97 L803.66 621.74 L805.00 621.51 L806.34 621.29 L807.68 621.07 L809.02 620.85 L810.36 620.63 L811.70 620.41" fill="none" stroke="#f00" stroke-width="3.20" stroke-linejoin="round"/>
<path d="M263.80 975.70 L265.00 972.84 L265.11 972.59 L266.42 969.58 L267.72 966.61 L269.03 963.71 L270.00 961.62 L270.34 960.90 L271.65 958.16 L272.95 955.49 L274.26 952.89 L275.00 951.45 L275.57 950.36 L276.88 947.89 L278.18 945.48 L279.49 943.15 L280.00 942.26 L280.80 940.87 L282.11 938.66 L283.41 936.51 L284.72 934.41 L285.00 933.98 L286.03 932.38 L287.34 930.40 L288.65 928.48 L289.95 926.61 L290.00 926.55 L291.26 924.80 L292.57 923.03 L293.88 921.31 L295.00 919.88 L295.18 919.65 L296.49 918.03 L297.80 916.46 L299.11 914.93 L300.00 913.91 L300.41 913.45 L301.72 912.00 L303.03 910.60 L304.34 909.24 L305.00 908.56 L305.64 907.91 L306.95 906.63 L308.26 905.38 L309.57 904.16 L310.00 903.77 L310.87 902.99 L312.18 901.84 L313.49 900.72 L314.80 899.64 L315.00 899.47 L316.11 898.58 L317.41 897.55 L318.72 896.54 L320.00 895.58 L320.03 895.56 L321.34 894.60 L322.64 893.67 L323.95 892.75 L325.00 892.03 L325.26 891.86 L326.57 890.98 L327.87 890.11 L329.18 889.27 L330.00 888.74 L330.49 888.44 L331.80 887.62 L333.10 886.81 L334.41 886.02 L335.00 885.67 L335.72 885.23 L337.03 884.45 L338.34 883.68 L339.64 882.92 L340.00 882.72 L340.95 882.17 L342.26 881.43 L343.57 880.69 L344.87 879.96 L345.00 879.89 L346.18 879.24 L347.49 878.52 L348.80 877.80 L350.00 877.15 L350.10 877.10 L351.41 876.39 L352.72 875.69 L354.03 875.00 L355.00 874.49 L355.33 874.31 L356.64 873.63 L357.95 872.95 L359.26 872.29 L360.00 871.92 L360.57 871.64 L361.87 870.99 L363.18 870.35 L364.49 869.69 L365.80 869.04 L367.10 868.38 L368.41 867.73 L369.72 867.06 L371.03 866.40 L372.33 865.73 L373.64 865.06 L374.95 864.39 L376.26 863.71 L377.56 863.04 L378.87 862.35 L380.00 861.76 L380.18 861.67 L381.49 860.98 L382.79 860.29 L384.10 859.60 L385.41 858.90 L386.72 858.20 L388.03 857.50 L389.33 856.80 L390.64 856.09 L391.95 855.38 L393.26 854.66 L394.56 853.94 L395.87 853.22 L397.18 852.50 L398.49 851.77 L399.79 851.04 L401.10 850.30 L402.41 849.56 L403.72 848.82 L405.02 848.08 L406.33 847.33 L407.64 846.58 L408.95 845.82 L410.26 845.07 L411.56 844.30 L412.87 843.54 L414.18 842.77 L415.49 842.00 L416.79 841.22 L418.10 840.44 L419.41 839.66 L420.00 839.30 L420.72 838.87 L422.02 838.08 L423.33 837.28 L424.64 836.48 L425.95 835.68 L427.25 834.87 L428.56 834.06 L429.87 833.25 L431.18 832.43 L432.49 831.61 L433.79 830.78 L435.10 829.95 L436.41 829.12 L437.72 828.28 L439.02 827.44 L440.33 826.60 L441.64 825.75 L442.95 824.89 L444.25 824.04 L445.56 823.17 L446.87 822.31 L448.18 821.44 L449.48 820.56 L450.79 819.69 L452.10 818.81 L453.41 817.92 L454.72 817.03 L456.02 816.14 L457.33 815.24 L458.64 814.34 L459.95 813.43 L460.00 813.39 L461.25 812.52 L462.56 811.61 L463.87 810.69 L465.18 809.77 L466.48 808.84 L467.79 807.91 L469.10 806.98 L470.41 806.04 L471.71 805.10 L473.02 804.16 L474.33 803.21 L475.64 802.26 L476.94 801.30 L478.25 800.34 L479.56 799.38 L480.87 798.41 L482.18 797.44 L483.48 796.47 L484.79 795.49 L486.10 794.51 L487.41 793.53 L488.71 792.54 L490.02 791.55 L491.33 790.56 L492.64 789.56 L493.94 788.57 L495.25 787.56 L496.56 786.56 L497.87 785.55 L499.17 784.54 L500.00 783.91 L500.48 783.53 L501.79 782.52 L503.10 781.50 L504.41 780.48 L505.71 779.46 L507.02 778.44 L508.33 777.41 L509.64 776.39 L510.94 775.36 L512.25 774.33 L513.56 773.30 L514.87 772.26 L516.17 771.23 L517.48 770.19 L518.79 769.16 L520.10 768.12 L521.40 767.08 L522.71 766.04 L524.02 765.00 L525.33 763.96 L526.64 762.92 L527.94 761.88 L529.25 760.84 L530.56 759.79 L531.87 758.75 L533.17 757.71 L534.48 756.67 L535.79 755.63 L537.10 754.59 L538.40 753.55 L539.71 752.51 L540.00 752.29 L541.02 751.48 L542.33 750.44 L543.63 749.41 L544.94 748.37 L546.25 747.34 L547.56 746.31 L548.86 745.28 L550.17 744.25 L551.48 743.23 L552.79 742.20 L554.10 741.18 L555.40 740.16 L556.71 739.15 L558.02 738.13 L559.33 737.12 L560.63 736.11 L561.94 735.10 L563.25 734.10 L564.56 733.09 L565.86 732.10 L567.17 731.10 L568.48 730.11 L569.79 729.12 L571.09 728.13 L572.40 727.15 L573.71 726.17 L575.02 725.19 L576.33 724.22 L577.63 723.25 L578.94 722.29 L580.00 721.51 L580.25 721.33 L581.56 720.37 L582.86 719.41 L584.17 718.46 L585.48 717.52 L586.79 716.58 L588.09 715.64 L589.40 714.70 L590.71 713.78 L592.02 712.85 L593.32 711.93 L594.63 711.01 L595.94 710.10 L597.25 709.19 L598.56 708.28 L599.86 707.38 L601.17 706.49 L602.48 705.60 L603.79 704.71 L605.09 703.83 L606.40 702.95 L607.71 702.07 L609.02 701.20 L610.32 700.34 L611.63 699.48 L612.94 698.62 L614.25 697.77 L615.55 696.92 L616.86 696.08 L618.17 695.24 L619.48 694.40 L620.00 694.07 L620.78 693.57 L622.09 692.75 L623.40 691.93 L624.71 691.11 L626.02 690.30 L627.32 689.49 L628.63 688.68 L629.94 687.88 L631.25 687.09 L632.55 686.30 L633.86 685.51 L635.17 684.73 L636.48 683.95 L637.78 683.17 L639.09 682.40 L640.00 681.87 L640.40 681.64 L641.71 680.88 L643.01 680.12 L644.32 679.38 L645.63 678.64 L646.94 677.91 L648.25 677.19 L649.55 676.47 L650.86 675.76 L652.17 675.05 L653.48 674.35 L654.78 673.65 L656.09 672.96 L657.40 672.27 L658.71 671.59 L660.00 670.91 L660.01 670.91 L661.32 670.23 L662.63 669.57 L663.94 668.92 L665.24 668.27 L666.55 667.63 L667.86 667.00 L669.17 666.37 L670.48 665.76 L671.78 665.14 L673.09 664.54 L674.40 663.93 L675.71 663.34 L677.01 662.74 L678.32 662.15 L679.63 661.57 L680.00 661.40 L680.94 660.98 L682.24 660.41 L683.55 659.84 L684.86 659.28 L686.17 658.72 L687.47 658.17 L688.78 657.62 L690.09 657.08 L691.40 656.54 L692.71 656.01 L694.01 655.48 L695.32 654.96 L696.63 654.44 L697.94 653.92 L699.24 653.41 L700.00 653.12 L700.55 652.90 L701.86 652.40 L703.17 651.89 L704.47 651.40 L705.78 650.90 L707.09 650.41 L708.40 649.92 L709.70 649.44 L711.01 648.97 L712.32 648.50 L713.63 648.03 L714.93 647.57 L716.24 647.12 L717.55 646.67 L718.86 646.23 L720.00 645.85 L720.17 645.80 L721.47 645.37 L722.78 644.95 L724.09 644.54 L725.40 644.14 L726.70 643.74 L728.01 643.35 L729.32 642.97 L730.63 642.60 L731.93 642.23 L733.24 641.87 L734.55 641.52 L735.86 641.17 L737.16 640.83 L738.47 640.50 L739.78 640.17 L740.00 640.11 L741.09 639.85 L742.40 639.54 L743.70 639.25 L745.01 638.96 L746.32 638.68 L747.63 638.42 L748.93 638.16 L750.24 637.91 L751.55 637.66 L752.86 637.42 L754.16 637.19 L755.47 636.96 L756.78 636.74 L758.09 636.52 L759.39 636.30 L760.70 636.08 L762.01 635.87 L763.32 635.65 L764.63 635.43 L765.00 635.37 L765.93 635.22 L767.24 635.00 L768.55 634.79 L769.86 634.58 L771.16 634.38 L772.47 634.17 L773.78 633.97 L775.09 633.77 L776.39 633.58 L777.70 633.39 L779.01 633.21 L780.32 633.02 L781.62 632.85 L782.93 632.67 L784.24 632.50 L785.55 632.34 L786.85 632.18 L788.16 632.02 L789.47 631.87 L790.00 631.82 L790.78 631.73 L792.09 631.59 L793.39 631.46 L794.70 631.33 L796.01 631.21 L797.32 631.09 L798.62 630.98 L799.93 630.87 L801.24 630.77 L802.55 630.67 L803.85 630.58 L805.16 630.49 L806.47 630.41 L807.78 630.33 L809.08 630.25 L810.39 630.18 L811.70 630.11" fill="none" stroke="#f00" stroke-width="3.20" stroke-linejoin="round"/>
<path d="M250.88 844.32 L252.22 845.73 L253.55 847.13 L254.89 848.50 L255.47 849.09 L256.22 849.85 L257.56 851.18 L258.89 852.49 L260.23 853.77 L260.45 853.98 L261.56 855.03 L262.90 856.27 L264.23 857.48 L265.43 858.55 L265.56 858.66 L266.90 859.82 L268.23 860.96 L269.57 862.07 L270.41 862.75 L270.90 863.15 L272.23 864.20 L273.56 865.23 L274.90 866.23 L275.38 866.59 L276.23 867.20 L277.56 868.14 L278.89 869.05 L280.22 869.94 L280.35 870.02 L281.55 870.79 L282.88 871.61 L284.21 872.40 L285.32 873.04 L285.54 873.16 L286.87 873.89 L288.20 874.59 L289.53 875.26 L290.27 875.61 L290.85 875.89 L292.18 876.49 L293.51 877.06 L294.84 877.60 L295.22 877.75 L296.16 878.10 L297.49 878.58 L298.81 879.02 L300.15 879.43 L300.17 879.43 L301.46 879.80 L302.79 880.14 L304.12 880.45 L305.12 880.66 L305.44 880.73 L306.77 880.98 L308.09 881.20 L309.42 881.39 L310.07 881.47 L310.74 881.55 L312.07 881.68 L313.40 881.78 L314.73 881.86 L315.02 881.87 L316.05 881.91 L317.38 881.93 L318.71 881.93 L319.98 881.90 L320.03 881.90 L321.37 881.84 L322.70 881.76 L324.03 881.66 L324.95 881.57 L325.36 881.53 L326.69 881.37 L328.03 881.20 L329.36 881.00 L329.92 880.91 L330.69 880.78 L332.02 880.54 L333.36 880.28 L334.69 880.00 L334.89 879.96 L336.03 879.70 L337.36 879.37 L338.70 879.03 L339.88 878.71 L340.03 878.67 L341.37 878.29 L342.71 877.90 L344.04 877.50 L344.87 877.24 L345.38 877.07 L346.72 876.63 L348.06 876.17 L349.39 875.70 L349.86 875.53 L350.73 875.21 L352.07 874.71 L353.41 874.20 L354.75 873.67 L354.86 873.62 L356.09 873.12 L357.43 872.56 L358.77 871.99 L359.86 871.50 L360.10 871.39 L361.44 870.77 L362.78 870.15 L364.12 869.51 L364.86 869.15 L365.46 868.85 L366.81 868.18 L368.15 867.51 L369.49 866.84 L370.83 866.17 L372.17 865.49 L373.51 864.80 L374.85 864.12 L376.20 863.43 L377.54 862.74 L378.88 862.04 L379.87 861.52 L380.22 861.35 L381.56 860.64 L382.90 859.94 L384.24 859.23 L385.58 858.52 L386.92 857.80 L388.26 857.09 L389.60 856.37 L390.94 855.64 L392.28 854.91 L393.62 854.18 L394.96 853.45 L396.30 852.71 L397.64 851.97 L398.98 851.22 L400.32 850.48 L401.67 849.72 L403.01 848.97 L404.35 848.21 L405.69 847.45 L407.03 846.68 L408.37 845.91 L409.71 845.14 L411.05 844.36 L412.39 843.58 L413.73 842.79 L415.07 842.00 L416.41 841.21 L417.75 840.41 L419.09 839.61 L419.90 839.13 L420.43 838.81 L421.77 838.00 L423.11 837.19 L424.45 836.37 L425.79 835.55 L427.13 834.73 L428.47 833.90 L429.81 833.06 L431.15 832.23 L432.49 831.39 L433.83 830.54 L435.17 829.69 L436.51 828.84 L437.85 827.98 L439.19 827.12 L440.53 826.25 L441.87 825.38 L443.21 824.51 L444.55 823.63 L445.88 822.74 L447.22 821.86 L448.56 820.96 L449.90 820.07 L451.24 819.17 L452.58 818.26 L453.92 817.35 L455.26 816.44 L456.60 815.52 L457.94 814.60 L459.28 813.67 L459.90 813.25 L460.62 812.74 L461.96 811.81 L463.30 810.87 L464.64 809.93 L465.97 808.98 L467.31 808.03 L468.65 807.08 L469.99 806.12 L471.33 805.16 L472.67 804.19 L474.01 803.22 L475.35 802.24 L476.69 801.27 L478.03 800.28 L479.37 799.30 L480.71 798.31 L482.05 797.31 L483.39 796.32 L484.73 795.32 L486.06 794.31 L487.40 793.30 L488.74 792.29 L490.08 791.28 L491.42 790.26 L492.76 789.24 L494.10 788.22 L495.44 787.19 L496.78 786.16 L498.12 785.13 L499.46 784.10 L499.89 783.76 L500.80 783.06 L502.14 782.02 L503.48 780.98 L504.82 779.93 L506.16 778.89 L507.50 777.84 L508.84 776.79 L510.17 775.73 L511.51 774.68 L512.85 773.62 L514.19 772.57 L515.53 771.51 L516.87 770.45 L518.21 769.38 L519.55 768.32 L520.89 767.26 L522.23 766.19 L523.57 765.13 L524.91 764.06 L526.25 763.00 L527.59 761.93 L528.93 760.86 L530.27 759.80 L531.61 758.73 L532.95 757.66 L534.29 756.60 L535.63 755.53 L536.97 754.47 L538.31 753.40 L539.65 752.34 L539.89 752.14 L540.99 751.27 L542.33 750.21 L543.66 749.15 L545.00 748.09 L546.34 747.04 L547.68 745.98 L549.02 744.93 L550.36 743.87 L551.70 742.82 L553.04 741.78 L554.38 740.73 L555.72 739.69 L557.06 738.64 L558.40 737.61 L559.74 736.57 L561.08 735.54 L562.42 734.50 L563.76 733.48 L565.10 732.45 L566.44 731.43 L567.78 730.41 L569.12 729.40 L570.46 728.38 L571.80 727.38 L573.14 726.37 L574.48 725.37 L575.82 724.37 L577.16 723.38 L578.50 722.39 L579.84 721.40 L579.89 721.36 L581.18 720.42 L582.52 719.44 L583.86 718.47 L585.20 717.50 L586.54 716.53 L587.88 715.57 L589.22 714.61 L590.56 713.66 L591.90 712.71 L593.24 711.77 L594.58 710.83 L595.92 709.89 L597.26 708.96 L598.60 708.04 L599.94 707.11 L601.28 706.20 L602.62 705.28 L603.96 704.37 L605.30 703.47 L606.64 702.57 L607.98 701.68 L609.32 700.79 L610.66 699.90 L612.00 699.02 L613.34 698.14 L614.68 697.27 L616.02 696.40 L617.35 695.54 L618.69 694.68 L619.90 693.91 L620.03 693.83 L621.37 692.98 L622.71 692.13 L624.05 691.29 L625.39 690.46 L626.73 689.63 L628.07 688.80 L629.41 687.98 L630.75 687.16 L632.09 686.35 L633.43 685.54 L634.77 684.73 L636.11 683.93 L637.44 683.13 L638.78 682.34 L639.89 681.69 L640.12 681.55 L641.46 680.77 L642.80 679.99 L644.14 679.22 L645.48 678.45 L646.82 677.68 L648.16 676.92 L649.50 676.16 L650.84 675.40 L652.17 674.65 L653.51 673.90 L654.85 673.16 L656.19 672.42 L657.53 671.69 L658.87 670.95 L659.89 670.40 L660.21 670.23 L661.55 669.50 L662.89 668.79 L664.23 668.08 L665.57 667.37 L666.90 666.67 L668.24 665.98 L669.58 665.29 L670.92 664.61 L672.26 663.93 L673.60 663.25 L674.94 662.58 L676.28 661.92 L677.62 661.26 L678.96 660.60 L679.88 660.15 L680.30 659.95 L681.64 659.30 L682.97 658.66 L684.31 658.04 L685.65 657.42 L686.99 656.81 L688.33 656.20 L689.67 655.61 L691.01 655.01 L692.35 654.43 L693.68 653.84 L695.02 653.26 L696.36 652.69 L697.70 652.11 L699.04 651.54 L699.86 651.19 L700.37 650.97 L701.71 650.40 L703.05 649.84 L704.39 649.28 L705.73 648.73 L707.06 648.18 L708.40 647.63 L709.74 647.09 L711.08 646.56 L712.42 646.02 L713.75 645.49 L715.09 644.97 L716.43 644.44 L717.77 643.93 L719.11 643.41 L719.84 643.13 L720.45 642.90 L721.78 642.39 L723.12 641.88 L724.46 641.38 L725.80 640.88 L727.14 640.38 L728.48 639.89 L729.82 639.40 L731.16 638.91 L732.50 638.43 L733.83 637.96 L735.17 637.49 L736.51 637.02 L737.85 636.57 L739.19 636.12 L739.83 635.91 L740.54 635.67 L741.88 635.24 L743.22 634.82 L744.56 634.40 L745.90 633.99 L747.24 633.59 L748.58 633.20 L749.92 632.81 L751.26 632.43 L752.60 632.06 L753.94 631.69 L755.28 631.33 L756.63 630.98 L757.97 630.63 L759.31 630.28 L760.65 629.94 L761.99 629.60 L763.33 629.26 L764.67 628.93 L764.86 628.88 L766.01 628.60 L767.35 628.27 L768.69 627.96 L770.04 627.65 L771.38 627.34 L772.72 627.05 L774.06 626.76 L775.40 626.47 L776.74 626.19 L778.08 625.91 L779.42 625.64 L780.76 625.36 L782.11 625.10 L783.45 624.83 L784.79 624.57 L786.13 624.31 L787.47 624.05 L788.81 623.79 L789.88 623.58 L790.15 623.53 L791.49 623.27 L792.83 623.02 L794.17 622.77 L795.51 622.52 L796.85 622.28 L798.19 622.04 L799.53 621.80 L800.87 621.56 L802.21 621.33 L803.55 621.09 L804.89 620.87 L806.23 620.64 L807.57 620.42 L808.91 620.20 L810.26 619.98 L811.60 619.76" fill="none" stroke="#000" stroke-width="1.30" stroke-linejoin="round"/>
<path d="M249.92 845.22 L251.26 846.64 L252.61 848.04 L253.95 849.42 L254.53 850.01 L255.29 850.78 L256.64 852.11 L257.98 853.43 L259.32 854.72 L259.55 854.93 L260.67 855.99 L262.01 857.23 L263.36 858.45 L264.57 859.52 L264.71 859.65 L266.05 860.81 L267.40 861.96 L268.74 863.07 L269.59 863.76 L270.09 864.16 L271.44 865.23 L272.78 866.26 L274.13 867.27 L274.62 867.63 L275.48 868.25 L276.83 869.20 L278.17 870.12 L279.52 871.01 L279.65 871.10 L280.87 871.87 L282.22 872.70 L283.57 873.50 L284.68 874.14 L284.92 874.27 L286.27 875.01 L287.62 875.72 L288.97 876.39 L289.73 876.76 L290.33 877.03 L291.67 877.64 L293.03 878.22 L294.37 878.77 L294.78 878.92 L295.73 879.28 L297.08 879.76 L298.44 880.21 L299.79 880.62 L299.83 880.63 L301.15 880.99 L302.50 881.34 L303.85 881.65 L304.88 881.86 L305.21 881.92 L306.56 882.17 L307.91 882.39 L309.26 882.57 L309.93 882.65 L310.62 882.73 L311.97 882.85 L313.33 882.94 L314.67 883.01 L314.98 883.02 L316.03 883.04 L317.38 883.06 L318.73 883.04 L320.02 883.00 L320.09 883.00 L321.43 882.93 L322.78 882.83 L324.13 882.71 L325.05 882.61 L325.48 882.57 L326.82 882.40 L328.17 882.21 L329.52 881.99 L330.08 881.90 L330.87 881.76 L332.21 881.50 L333.55 881.22 L334.90 880.93 L335.11 880.88 L336.25 880.61 L337.59 880.27 L338.93 879.91 L340.12 879.58 L340.28 879.53 L341.62 879.15 L342.96 878.74 L344.30 878.32 L345.13 878.05 L345.65 877.88 L346.99 877.42 L348.33 876.94 L349.67 876.45 L350.14 876.28 L351.01 875.95 L352.35 875.44 L353.69 874.91 L355.03 874.36 L355.14 874.31 L356.37 873.80 L357.71 873.23 L359.05 872.64 L360.14 872.14 L360.39 872.02 L361.73 871.39 L363.07 870.75 L364.41 870.10 L365.14 869.73 L365.75 869.42 L367.09 868.75 L368.43 868.06 L369.76 867.38 L371.10 866.70 L372.44 866.01 L373.78 865.32 L375.11 864.62 L376.45 863.93 L377.79 863.23 L379.13 862.53 L380.13 862.00 L380.47 861.82 L381.81 861.12 L383.15 860.41 L384.48 859.69 L385.82 858.97 L387.16 858.26 L388.50 857.53 L389.84 856.81 L391.18 856.08 L392.52 855.34 L393.86 854.61 L395.19 853.87 L396.53 853.13 L397.87 852.38 L399.21 851.63 L400.55 850.88 L401.89 850.12 L403.23 849.36 L404.57 848.60 L405.91 847.83 L407.24 847.06 L408.58 846.28 L409.92 845.51 L411.26 844.73 L412.60 843.94 L413.94 843.15 L415.28 842.36 L416.62 841.56 L417.96 840.76 L419.30 839.96 L420.10 839.47 L420.63 839.15 L421.97 838.34 L423.31 837.52 L424.65 836.70 L425.99 835.88 L427.33 835.05 L428.67 834.22 L430.01 833.39 L431.35 832.55 L432.69 831.70 L434.03 830.86 L435.37 830.00 L436.71 829.15 L438.05 828.29 L439.39 827.43 L440.72 826.56 L442.06 825.69 L443.40 824.81 L444.74 823.93 L446.08 823.04 L447.42 822.16 L448.76 821.26 L450.10 820.37 L451.44 819.47 L452.78 818.56 L454.12 817.65 L455.46 816.74 L456.80 815.82 L458.14 814.90 L459.48 813.97 L460.10 813.54 L460.82 813.04 L462.16 812.11 L463.50 811.17 L464.84 810.22 L466.18 809.28 L467.52 808.33 L468.86 807.37 L470.20 806.41 L471.54 805.45 L472.88 804.48 L474.22 803.51 L475.56 802.53 L476.90 801.56 L478.24 800.57 L479.58 799.59 L480.92 798.60 L482.26 797.60 L483.60 796.61 L484.94 795.60 L486.28 794.60 L487.62 793.59 L488.96 792.58 L490.30 791.57 L491.64 790.55 L492.98 789.53 L494.32 788.51 L495.66 787.48 L497.00 786.45 L498.34 785.42 L499.68 784.38 L500.11 784.05 L501.02 783.34 L502.36 782.30 L503.70 781.26 L505.04 780.22 L506.38 779.17 L507.72 778.12 L509.06 777.07 L510.40 776.02 L511.74 774.96 L513.08 773.91 L514.42 772.85 L515.76 771.79 L517.10 770.73 L518.44 769.67 L519.78 768.60 L521.11 767.54 L522.45 766.47 L523.79 765.41 L525.13 764.34 L526.47 763.28 L527.81 762.21 L529.15 761.14 L530.49 760.08 L531.83 759.01 L533.17 757.94 L534.51 756.88 L535.85 755.81 L537.19 754.75 L538.53 753.68 L539.87 752.62 L540.11 752.43 L541.21 751.56 L542.55 750.50 L543.89 749.44 L545.23 748.38 L546.57 747.32 L547.91 746.26 L549.25 745.21 L550.59 744.16 L551.93 743.11 L553.26 742.06 L554.60 741.01 L555.94 739.97 L557.28 738.93 L558.62 737.89 L559.96 736.85 L561.30 735.82 L562.64 734.79 L563.98 733.76 L565.32 732.74 L566.66 731.72 L568.00 730.70 L569.34 729.68 L570.68 728.67 L572.02 727.66 L573.36 726.66 L574.70 725.66 L576.03 724.66 L577.37 723.67 L578.71 722.68 L580.05 721.69 L580.11 721.65 L581.39 720.71 L582.73 719.73 L584.07 718.76 L585.41 717.79 L586.75 716.83 L588.09 715.86 L589.43 714.91 L590.77 713.95 L592.11 713.01 L593.45 712.06 L594.79 711.12 L596.12 710.19 L597.46 709.26 L598.80 708.33 L600.14 707.41 L601.48 706.49 L602.82 705.58 L604.16 704.67 L605.50 703.77 L606.84 702.87 L608.18 701.98 L609.52 701.09 L610.86 700.21 L612.20 699.33 L613.54 698.45 L614.88 697.58 L616.22 696.71 L617.56 695.85 L618.90 695.00 L620.10 694.23 L620.24 694.15 L621.58 693.30 L622.91 692.46 L624.25 691.62 L625.59 690.79 L626.93 689.96 L628.27 689.13 L629.61 688.31 L630.95 687.50 L632.29 686.69 L633.63 685.88 L634.97 685.08 L636.31 684.28 L637.65 683.49 L638.99 682.70 L640.11 682.05 L640.33 681.92 L641.67 681.14 L643.02 680.36 L644.36 679.59 L645.70 678.82 L647.04 678.06 L648.38 677.30 L649.72 676.55 L651.06 675.80 L652.40 675.05 L653.74 674.31 L655.08 673.57 L656.42 672.83 L657.76 672.10 L659.10 671.38 L660.11 670.83 L660.44 670.65 L661.78 669.94 L663.12 669.22 L664.46 668.52 L665.80 667.82 L667.14 667.13 L668.48 666.44 L669.82 665.75 L671.16 665.08 L672.50 664.40 L673.84 663.73 L675.18 663.07 L676.52 662.41 L677.86 661.75 L679.20 661.10 L680.12 660.65 L680.54 660.45 L681.88 659.81 L683.22 659.19 L684.56 658.57 L685.90 657.96 L687.24 657.36 L688.58 656.76 L689.92 656.17 L691.26 655.59 L692.60 655.01 L693.94 654.44 L695.28 653.88 L696.63 653.31 L697.97 652.75 L699.31 652.19 L700.14 651.84 L700.65 651.63 L701.99 651.08 L703.33 650.53 L704.67 649.98 L706.02 649.44 L707.36 648.90 L708.70 648.37 L710.04 647.84 L711.38 647.32 L712.72 646.80 L714.06 646.28 L715.40 645.77 L716.74 645.26 L718.08 644.75 L719.42 644.25 L720.16 643.97 L720.77 643.75 L722.11 643.25 L723.45 642.75 L724.79 642.26 L726.13 641.77 L727.47 641.28 L728.81 640.80 L730.15 640.32 L731.49 639.85 L732.83 639.38 L734.17 638.92 L735.51 638.46 L736.85 638.01 L738.19 637.57 L739.53 637.13 L740.17 636.92 L740.87 636.70 L742.20 636.28 L743.54 635.87 L744.88 635.46 L746.22 635.07 L747.56 634.68 L748.89 634.29 L750.23 633.92 L751.57 633.55 L752.91 633.19 L754.25 632.83 L755.59 632.47 L756.93 632.13 L758.26 631.78 L759.60 631.44 L760.94 631.10 L762.28 630.77 L763.62 630.44 L764.96 630.11 L765.14 630.06 L766.30 629.78 L767.63 629.47 L768.97 629.16 L770.31 628.85 L771.65 628.55 L772.98 628.26 L774.32 627.98 L775.66 627.69 L777.00 627.42 L778.34 627.14 L779.67 626.87 L781.01 626.61 L782.35 626.34 L783.69 626.08 L785.03 625.82 L786.37 625.57 L787.71 625.31 L789.05 625.05 L790.12 624.85 L790.39 624.80 L791.73 624.54 L793.06 624.29 L794.40 624.05 L795.74 623.80 L797.08 623.56 L798.42 623.32 L799.76 623.08 L801.10 622.85 L802.43 622.62 L803.77 622.39 L805.11 622.16 L806.45 621.94 L807.79 621.72 L809.13 621.50 L810.47 621.28 L811.80 621.07" fill="none" stroke="#000" stroke-width="1.30" stroke-linejoin="round"/>
<path d="M263.20 975.45 L264.40 972.59 L264.51 972.34 L265.82 969.32 L267.13 966.35 L268.44 963.44 L269.41 961.35 L269.75 960.62 L271.06 957.88 L272.37 955.20 L273.68 952.60 L274.43 951.15 L275.00 950.06 L276.31 947.58 L277.62 945.17 L278.93 942.83 L279.44 941.94 L280.25 940.55 L281.56 938.33 L282.87 936.17 L284.18 934.08 L284.46 933.63 L285.50 932.03 L286.81 930.05 L288.12 928.12 L289.44 926.25 L289.49 926.18 L290.75 924.43 L292.07 922.65 L293.38 920.93 L294.51 919.49 L294.70 919.25 L296.01 917.63 L297.32 916.06 L298.64 914.52 L299.54 913.50 L299.95 913.03 L301.27 911.59 L302.58 910.18 L303.90 908.81 L304.57 908.13 L305.22 907.48 L306.53 906.19 L307.85 904.94 L309.16 903.73 L309.60 903.33 L310.48 902.54 L311.80 901.40 L313.12 900.28 L314.43 899.20 L314.64 899.03 L315.75 898.14 L317.07 897.10 L318.38 896.09 L319.67 895.14 L319.70 895.11 L321.02 894.16 L322.33 893.23 L323.65 892.31 L324.70 891.60 L324.97 891.42 L326.28 890.55 L327.60 889.69 L328.91 888.84 L329.73 888.32 L330.23 888.02 L331.54 887.20 L332.85 886.40 L334.17 885.61 L334.76 885.26 L335.48 884.83 L336.79 884.06 L338.10 883.29 L339.42 882.53 L339.78 882.33 L340.73 881.78 L342.04 881.04 L343.35 880.31 L344.67 879.59 L344.79 879.52 L345.98 878.87 L347.29 878.15 L348.60 877.45 L349.81 876.80 L349.91 876.74 L351.23 876.05 L352.54 875.35 L353.85 874.66 L354.83 874.16 L355.16 873.98 L356.47 873.31 L357.79 872.63 L359.10 871.97 L359.85 871.61 L360.41 871.33 L361.72 870.69 L363.03 870.05 L364.34 869.40 L365.65 868.75 L366.96 868.10 L368.27 867.45 L369.58 866.79 L370.89 866.13 L372.20 865.47 L373.51 864.81 L374.82 864.14 L376.13 863.47 L377.44 862.79 L378.75 862.11 L379.87 861.52 L380.05 861.43 L381.36 860.75 L382.67 860.06 L383.98 859.37 L385.29 858.67 L386.60 857.98 L387.91 857.28 L389.21 856.57 L390.52 855.87 L391.83 855.16 L393.14 854.45 L394.45 853.73 L395.76 853.01 L397.06 852.29 L398.37 851.56 L399.68 850.84 L400.99 850.10 L402.30 849.37 L403.61 848.63 L404.91 847.89 L406.22 847.14 L407.53 846.39 L408.84 845.64 L410.15 844.88 L411.46 844.12 L412.76 843.36 L414.07 842.59 L415.38 841.82 L416.69 841.04 L418.00 840.27 L419.31 839.48 L419.90 839.13 L420.61 838.70 L421.92 837.91 L423.23 837.11 L424.54 836.32 L425.85 835.52 L427.15 834.71 L428.46 833.90 L429.77 833.09 L431.08 832.27 L432.39 831.45 L433.69 830.63 L435.00 829.80 L436.31 828.97 L437.62 828.13 L438.92 827.29 L440.23 826.44 L441.54 825.59 L442.85 824.74 L444.15 823.88 L445.46 823.02 L446.77 822.16 L448.08 821.29 L449.38 820.42 L450.69 819.54 L452.00 818.66 L453.31 817.77 L454.61 816.88 L455.92 815.99 L457.23 815.09 L458.54 814.19 L459.84 813.28 L459.90 813.25 L461.15 812.37 L462.46 811.46 L463.76 810.54 L465.07 809.62 L466.38 808.70 L467.69 807.77 L468.99 806.83 L470.30 805.90 L471.61 804.96 L472.92 804.01 L474.22 803.06 L475.53 802.11 L476.84 801.16 L478.15 800.20 L479.45 799.23 L480.76 798.27 L482.07 797.30 L483.38 796.32 L484.68 795.35 L485.99 794.37 L487.30 793.39 L488.61 792.40 L489.91 791.41 L491.22 790.42 L492.53 789.42 L493.83 788.42 L495.14 787.42 L496.45 786.42 L497.76 785.41 L499.06 784.40 L499.89 783.76 L500.37 783.39 L501.68 782.38 L502.99 781.36 L504.29 780.34 L505.60 779.32 L506.91 778.30 L508.22 777.27 L509.52 776.24 L510.83 775.22 L512.14 774.19 L513.45 773.15 L514.75 772.12 L516.06 771.09 L517.37 770.05 L518.68 769.01 L519.98 767.98 L521.29 766.94 L522.60 765.90 L523.91 764.86 L525.22 763.82 L526.52 762.78 L527.83 761.74 L529.14 760.70 L530.45 759.65 L531.75 758.61 L533.06 757.57 L534.37 756.53 L535.68 755.49 L536.98 754.45 L538.29 753.41 L539.60 752.37 L539.89 752.14 L540.91 751.34 L542.21 750.30 L543.52 749.27 L544.83 748.23 L546.14 747.20 L547.45 746.17 L548.75 745.14 L550.06 744.11 L551.37 743.09 L552.68 742.06 L553.98 741.04 L555.29 740.02 L556.60 739.00 L557.91 737.99 L559.22 736.98 L560.52 735.97 L561.83 734.96 L563.14 733.95 L564.45 732.95 L565.76 731.95 L567.06 730.96 L568.37 729.96 L569.68 728.97 L570.99 727.99 L572.29 727.01 L573.60 726.03 L574.91 725.05 L576.22 724.08 L577.53 723.11 L578.83 722.14 L579.89 721.36 L580.14 721.18 L581.45 720.22 L582.76 719.27 L584.07 718.32 L585.37 717.37 L586.68 716.43 L587.99 715.49 L589.30 714.56 L590.61 713.63 L591.91 712.70 L593.22 711.78 L594.53 710.86 L595.84 709.95 L597.14 709.04 L598.45 708.14 L599.76 707.24 L601.07 706.34 L602.38 705.45 L603.68 704.56 L604.99 703.68 L606.30 702.80 L607.61 701.92 L608.92 701.05 L610.22 700.19 L611.53 699.33 L612.84 698.47 L614.15 697.62 L615.45 696.77 L616.76 695.92 L618.07 695.08 L619.38 694.25 L619.90 693.91 L620.68 693.42 L621.99 692.59 L623.30 691.77 L624.61 690.95 L625.91 690.13 L627.22 689.32 L628.53 688.52 L629.84 687.72 L631.14 686.92 L632.45 686.13 L633.76 685.34 L635.06 684.55 L636.37 683.77 L637.68 683.00 L638.99 682.22 L639.89 681.69 L640.29 681.45 L641.60 680.69 L642.91 679.94 L644.22 679.19 L645.52 678.45 L646.83 677.72 L648.14 676.99 L649.45 676.27 L650.75 675.56 L652.06 674.85 L653.37 674.14 L654.67 673.44 L655.98 672.75 L657.29 672.06 L658.60 671.37 L659.89 670.70 L659.90 670.69 L661.21 670.02 L662.52 669.35 L663.83 668.69 L665.13 668.04 L666.44 667.40 L667.75 666.77 L669.06 666.14 L670.36 665.52 L671.67 664.90 L672.98 664.29 L674.29 663.69 L675.59 663.09 L676.90 662.49 L678.21 661.90 L679.51 661.31 L679.89 661.15 L680.82 660.73 L682.13 660.15 L683.44 659.57 L684.74 659.01 L686.05 658.44 L687.36 657.89 L688.66 657.34 L689.97 656.79 L691.28 656.25 L692.58 655.71 L693.89 655.18 L695.20 654.65 L696.50 654.12 L697.81 653.60 L699.12 653.08 L699.87 652.79 L700.42 652.57 L701.73 652.06 L703.03 651.55 L704.34 651.04 L705.65 650.54 L706.95 650.04 L708.26 649.55 L709.57 649.06 L710.87 648.58 L712.18 648.11 L713.49 647.63 L714.79 647.17 L716.10 646.71 L717.41 646.25 L718.72 645.81 L719.86 645.42 L720.03 645.37 L721.33 644.94 L722.64 644.51 L723.95 644.10 L725.26 643.69 L726.57 643.29 L727.87 642.89 L729.18 642.50 L730.49 642.12 L731.80 641.75 L733.11 641.38 L734.42 641.02 L735.73 640.67 L737.03 640.32 L738.34 639.98 L739.65 639.65 L739.87 639.59 L740.96 639.32 L742.27 639.01 L743.58 638.71 L744.89 638.42 L746.20 638.13 L747.51 637.86 L748.82 637.60 L750.13 637.34 L751.44 637.09 L752.75 636.85 L754.06 636.61 L755.37 636.38 L756.68 636.15 L757.99 635.93 L759.30 635.71 L760.60 635.49 L761.91 635.27 L763.22 635.05 L764.53 634.83 L764.90 634.77 L765.83 634.61 L767.14 634.40 L768.45 634.18 L769.76 633.97 L771.07 633.76 L772.38 633.56 L773.68 633.36 L774.99 633.16 L776.30 632.96 L777.61 632.77 L778.92 632.58 L780.23 632.40 L781.54 632.22 L782.85 632.04 L784.16 631.87 L785.47 631.70 L786.78 631.54 L788.09 631.39 L789.40 631.23 L789.93 631.17 L790.71 631.09 L792.02 630.95 L793.33 630.81 L794.64 630.68 L795.95 630.56 L797.26 630.44 L798.57 630.33 L799.88 630.22 L801.19 630.12 L802.50 630.02 L803.81 629.92 L805.12 629.83 L806.43 629.75 L807.74 629.67 L809.05 629.59 L810.36 629.52 L811.67 629.46" fill="none" stroke="#000" stroke-width="1.30" stroke-linejoin="round"/>
<path d="M264.40 975.95 L265.60 973.10 L265.71 972.85 L267.01 969.84 L268.32 966.88 L269.62 963.98 L270.59 961.89 L270.92 961.18 L272.23 958.44 L273.53 955.78 L274.84 953.18 L275.57 951.75 L276.14 950.66 L277.44 948.19 L278.75 945.79 L280.05 943.46 L280.56 942.58 L281.35 941.20 L282.66 938.99 L283.96 936.84 L285.26 934.75 L285.54 934.32 L286.56 932.73 L287.86 930.76 L289.17 928.84 L290.47 926.97 L290.51 926.91 L291.77 925.17 L293.07 923.41 L294.37 921.69 L295.49 920.26 L295.67 920.04 L296.97 918.43 L298.27 916.86 L299.58 915.34 L300.46 914.32 L300.87 913.86 L302.18 912.42 L303.48 911.02 L304.78 909.66 L305.43 908.99 L306.07 908.35 L307.37 907.06 L308.67 905.82 L309.97 904.60 L310.40 904.21 L311.27 903.43 L312.57 902.28 L313.86 901.17 L315.16 900.08 L315.36 899.92 L316.46 899.03 L317.76 897.99 L319.06 896.98 L320.33 896.02 L320.35 896.00 L321.65 895.04 L322.95 894.10 L324.25 893.19 L325.30 892.47 L325.55 892.29 L326.85 891.41 L328.15 890.54 L329.45 889.69 L330.27 889.17 L330.75 888.86 L332.06 888.04 L333.36 887.23 L334.66 886.43 L335.24 886.07 L335.96 885.64 L337.26 884.85 L338.57 884.08 L339.87 883.31 L340.22 883.11 L341.17 882.56 L342.47 881.81 L343.78 881.07 L345.08 880.33 L345.21 880.26 L346.38 879.61 L347.69 878.88 L348.99 878.16 L350.19 877.51 L350.29 877.45 L351.60 876.74 L352.90 876.03 L354.20 875.33 L355.17 874.82 L355.51 874.65 L356.81 873.96 L358.11 873.27 L359.42 872.60 L360.15 872.23 L360.72 871.95 L362.02 871.30 L363.33 870.64 L364.63 869.99 L365.94 869.33 L367.24 868.67 L368.55 868.00 L369.86 867.33 L371.16 866.67 L372.47 865.99 L373.77 865.32 L375.08 864.64 L376.39 863.96 L377.69 863.28 L379.00 862.60 L380.13 862.00 L380.31 861.91 L381.61 861.22 L382.92 860.53 L384.23 859.83 L385.53 859.13 L386.84 858.43 L388.15 857.72 L389.45 857.02 L390.76 856.31 L392.07 855.59 L393.37 854.87 L394.68 854.15 L395.99 853.43 L397.29 852.70 L398.60 851.97 L399.91 851.24 L401.21 850.50 L402.52 849.76 L403.83 849.02 L405.13 848.27 L406.44 847.52 L407.75 846.77 L409.06 846.01 L410.36 845.25 L411.67 844.49 L412.98 843.72 L414.28 842.95 L415.59 842.17 L416.90 841.39 L418.21 840.61 L419.51 839.83 L420.10 839.47 L420.82 839.04 L422.13 838.25 L423.43 837.45 L424.74 836.65 L426.05 835.84 L427.36 835.04 L428.66 834.23 L429.97 833.41 L431.28 832.59 L432.58 831.77 L433.89 830.94 L435.20 830.11 L436.51 829.28 L437.81 828.44 L439.12 827.59 L440.43 826.75 L441.74 825.90 L443.05 825.04 L444.35 824.19 L445.66 823.32 L446.97 822.46 L448.28 821.59 L449.58 820.71 L450.89 819.84 L452.20 818.95 L453.51 818.07 L454.82 817.18 L456.12 816.28 L457.43 815.39 L458.74 814.48 L460.05 813.58 L460.10 813.54 L461.36 812.67 L462.66 811.75 L463.97 810.84 L465.28 809.92 L466.59 808.99 L467.90 808.06 L469.20 807.13 L470.51 806.19 L471.82 805.25 L473.13 804.30 L474.44 803.35 L475.74 802.40 L477.05 801.45 L478.36 800.49 L479.67 799.52 L480.97 798.56 L482.28 797.59 L483.59 796.61 L484.90 795.64 L486.21 794.66 L487.51 793.67 L488.82 792.69 L490.13 791.70 L491.44 790.70 L492.75 789.71 L494.05 788.71 L495.36 787.71 L496.67 786.70 L497.98 785.70 L499.28 784.69 L500.11 784.05 L500.59 783.67 L501.90 782.66 L503.21 781.64 L504.52 780.62 L505.82 779.60 L507.13 778.58 L508.44 777.55 L509.75 776.53 L511.05 775.50 L512.36 774.47 L513.67 773.44 L514.98 772.40 L516.29 771.37 L517.59 770.33 L518.90 769.30 L520.21 768.26 L521.52 767.22 L522.82 766.18 L524.13 765.14 L525.44 764.10 L526.75 763.06 L528.05 762.02 L529.36 760.98 L530.67 759.94 L531.98 758.89 L533.29 757.85 L534.59 756.81 L535.90 755.77 L537.21 754.73 L538.52 753.69 L539.82 752.66 L540.11 752.43 L541.13 751.62 L542.44 750.58 L543.75 749.55 L545.05 748.51 L546.36 747.48 L547.67 746.45 L548.98 745.42 L550.28 744.39 L551.59 743.37 L552.90 742.35 L554.21 741.32 L555.51 740.30 L556.82 739.29 L558.13 738.27 L559.44 737.26 L560.74 736.25 L562.05 735.24 L563.36 734.24 L564.67 733.24 L565.97 732.24 L567.28 731.24 L568.59 730.25 L569.90 729.26 L571.20 728.28 L572.51 727.29 L573.82 726.31 L575.13 725.34 L576.43 724.37 L577.74 723.40 L579.05 722.43 L580.11 721.65 L580.35 721.47 L581.66 720.51 L582.97 719.56 L584.28 718.61 L585.58 717.66 L586.89 716.72 L588.20 715.79 L589.51 714.85 L590.81 713.92 L592.12 713.00 L593.43 712.08 L594.74 711.16 L596.04 710.25 L597.35 709.34 L598.66 708.43 L599.96 707.53 L601.27 706.64 L602.58 705.75 L603.89 704.86 L605.19 703.98 L606.50 703.10 L607.81 702.22 L609.12 701.36 L610.42 700.49 L611.73 699.63 L613.04 698.78 L614.35 697.92 L615.65 697.08 L616.96 696.23 L618.27 695.40 L619.58 694.56 L620.10 694.23 L620.89 693.73 L622.19 692.91 L623.50 692.09 L624.81 691.27 L626.12 690.46 L627.43 689.65 L628.73 688.85 L630.04 688.05 L631.35 687.26 L632.66 686.47 L633.97 685.68 L635.27 684.90 L636.58 684.12 L637.89 683.35 L639.20 682.58 L640.11 682.05 L640.51 681.82 L641.81 681.06 L643.12 680.31 L644.43 679.57 L645.74 678.83 L647.04 678.10 L648.35 677.38 L649.66 676.66 L650.97 675.95 L652.28 675.25 L653.58 674.55 L654.89 673.85 L656.20 673.16 L657.51 672.48 L658.82 671.80 L660.11 671.13 L660.12 671.12 L661.43 670.45 L662.74 669.79 L664.05 669.14 L665.36 668.49 L666.66 667.86 L667.97 667.23 L669.28 666.61 L670.59 665.99 L671.89 665.38 L673.20 664.78 L674.51 664.18 L675.82 663.58 L677.13 662.99 L678.43 662.41 L679.74 661.82 L680.11 661.66 L681.05 661.24 L682.36 660.67 L683.67 660.10 L684.97 659.54 L686.28 658.99 L687.59 658.44 L688.90 657.90 L690.21 657.37 L691.52 656.83 L692.83 656.31 L694.13 655.79 L695.44 655.27 L696.75 654.75 L698.06 654.25 L699.37 653.74 L700.13 653.45 L700.68 653.24 L701.99 652.74 L703.30 652.24 L704.61 651.75 L705.92 651.26 L707.23 650.78 L708.53 650.30 L709.84 649.82 L711.15 649.35 L712.46 648.89 L713.77 648.43 L715.08 647.98 L716.38 647.53 L717.69 647.09 L719.00 646.65 L720.14 646.28 L720.31 646.23 L721.61 645.80 L722.92 645.39 L724.23 644.99 L725.53 644.59 L726.84 644.20 L728.15 643.82 L729.45 643.44 L730.76 643.08 L732.07 642.72 L733.38 642.36 L734.68 642.01 L735.99 641.67 L737.30 641.34 L738.60 641.01 L739.91 640.69 L740.13 640.64 L741.21 640.38 L742.52 640.07 L743.82 639.78 L745.13 639.50 L746.43 639.23 L747.74 638.97 L749.04 638.72 L750.35 638.47 L751.65 638.23 L752.96 638.00 L754.27 637.77 L755.57 637.54 L756.88 637.32 L758.19 637.10 L759.49 636.89 L760.80 636.67 L762.11 636.46 L763.42 636.25 L764.72 636.03 L765.10 635.97 L766.03 635.82 L767.34 635.61 L768.65 635.40 L769.95 635.19 L771.26 634.99 L772.57 634.79 L773.87 634.59 L775.18 634.39 L776.48 634.20 L777.79 634.01 L779.10 633.83 L780.40 633.65 L781.71 633.47 L783.01 633.30 L784.32 633.14 L785.63 632.97 L786.93 632.82 L788.24 632.66 L789.54 632.51 L790.07 632.46 L790.85 632.37 L792.15 632.24 L793.46 632.10 L794.76 631.98 L796.07 631.86 L797.37 631.74 L798.68 631.63 L799.98 631.52 L801.29 631.42 L802.59 631.33 L803.90 631.23 L805.20 631.15 L806.51 631.06 L807.82 630.98 L809.12 630.91 L810.43 630.84 L811.73 630.77" fill="none" stroke="#000" stroke-width="1.30" stroke-linejoin="round"/>
<path d="M261.24 1004.57 L262.49 1005.82 L261.24 1007.08 L259.98 1005.82 L259.98 1004.57 L261.24 1002.06 L262.49 1000.80 L266.26 999.55 L271.28 999.55 L275.04 1000.80 L276.30 1002.06 L277.55 1004.57 L277.55 1007.08 L276.30 1009.59 L272.53 1012.10 L266.26 1014.61 L263.75 1015.86 L261.24 1018.37 L259.98 1022.14 L259.98 1025.90 M271.28 999.55 L273.79 1000.80 L275.04 1002.06 L276.30 1004.57 L276.30 1007.08 L275.04 1009.59 L271.28 1012.10 L266.26 1014.61 M259.98 1023.39 L261.24 1022.14 L263.75 1022.14 L270.02 1024.65 L273.79 1024.65 L276.30 1023.39 L277.55 1022.14 M263.75 1022.14 L270.02 1025.90 L275.04 1025.90 L276.30 1024.65 L277.55 1022.14 L277.55 1019.63 M287.59 1023.39 L286.34 1024.65 L287.59 1025.90 L288.85 1024.65 L287.59 1023.39 M301.40 1004.57 L303.91 1003.31 L307.67 999.55 L307.67 1025.90 M306.42 1000.80 L306.42 1025.90 M301.40 1025.90 L312.69 1025.90 M386.02 1004.57 L387.27 1005.82 L386.02 1007.08 L384.76 1005.82 L384.76 1004.57 L386.02 1002.06 L387.27 1000.80 L391.04 999.55 L396.06 999.55 L399.82 1000.80 L401.08 1002.06 L402.33 1004.57 L402.33 1007.08 L401.08 1009.59 L397.31 1012.10 L391.04 1014.61 L388.53 1015.86 L386.02 1018.37 L384.76 1022.14 L384.76 1025.90 M396.06 999.55 L398.57 1000.80 L399.82 1002.06 L401.08 1004.57 L401.08 1007.08 L399.82 1009.59 L396.06 1012.10 L391.04 1014.61 M384.76 1023.39 L386.02 1022.14 L388.53 1022.14 L394.80 1024.65 L398.57 1024.65 L401.08 1023.39 L402.33 1022.14 M388.53 1022.14 L394.80 1025.90 L399.82 1025.90 L401.08 1024.65 L402.33 1022.14 L402.33 1019.63 M412.37 1023.39 L411.12 1024.65 L412.37 1025.90 L413.63 1024.65 L412.37 1023.39 M423.67 1004.57 L424.92 1005.82 L423.67 1007.08 L422.41 1005.82 L422.41 1004.57 L423.67 1002.06 L424.92 1000.80 L428.69 999.55 L433.71 999.55 L437.47 1000.80 L438.73 1002.06 L439.98 1004.57 L439.98 1007.08 L438.73 1009.59 L434.96 1012.10 L428.69 1014.61 L426.18 1015.86 L423.67 1018.37 L422.41 1022.14 L422.41 1025.90 M433.71 999.55 L436.22 1000.80 L437.47 1002.06 L438.73 1004.57 L438.73 1007.08 L437.47 1009.59 L433.71 1012.10 L428.69 1014.61 M422.41 1023.39 L423.67 1022.14 L426.18 1022.14 L432.45 1024.65 L436.22 1024.65 L438.73 1023.39 L439.98 1022.14 M426.18 1022.14 L432.45 1025.90 L437.47 1025.90 L438.73 1024.65 L439.98 1022.14 L439.98 1019.63 M510.80 1004.57 L512.05 1005.82 L510.80 1007.08 L509.54 1005.82 L509.54 1004.57 L510.80 1002.06 L512.05 1000.80 L515.82 999.55 L520.84 999.55 L524.60 1000.80 L525.86 1002.06 L527.11 1004.57 L527.11 1007.08 L525.86 1009.59 L522.09 1012.10 L515.82 1014.61 L513.31 1015.86 L510.80 1018.37 L509.54 1022.14 L509.54 1025.90 M520.84 999.55 L523.35 1000.80 L524.60 1002.06 L525.86 1004.57 L525.86 1007.08 L524.60 1009.59 L520.84 1012.10 L515.82 1014.61 M509.54 1023.39 L510.80 1022.14 L513.31 1022.14 L519.58 1024.65 L523.35 1024.65 L525.86 1023.39 L527.11 1022.14 M513.31 1022.14 L519.58 1025.90 L524.60 1025.90 L525.86 1024.65 L527.11 1022.14 L527.11 1019.63 M537.15 1023.39 L535.90 1024.65 L537.15 1025.90 L538.41 1024.65 L537.15 1023.39 M548.45 1004.57 L549.70 1005.82 L548.45 1007.08 L547.19 1005.82 L547.19 1004.57 L548.45 1002.06 L549.70 1000.80 L553.47 999.55 L558.49 999.55 L562.25 1000.80 L563.50 1003.31 L563.50 1007.08 L562.25 1009.59 L558.49 1010.84 L554.72 1010.84 M558.49 999.55 L561.00 1000.80 L562.25 1003.31 L562.25 1007.08 L561.00 1009.59 L558.49 1010.84 M558.49 1010.84 L561.00 1012.10 L563.50 1014.61 L564.76 1017.12 L564.76 1020.88 L563.50 1023.39 L562.25 1024.65 L558.49 1025.90 L553.47 1025.90 L549.70 1024.65 L548.45 1023.39 L547.19 1020.88 L547.19 1019.63 L548.45 1018.37 L549.70 1019.63 L548.45 1020.88 M562.25 1013.35 L563.50 1017.12 L563.50 1020.88 L562.25 1023.39 L561.00 1024.65 L558.49 1025.90 M635.58 1004.57 L636.83 1005.82 L635.58 1007.08 L634.32 1005.82 L634.32 1004.57 L635.58 1002.06 L636.83 1000.80 L640.60 999.55 L645.62 999.55 L649.38 1000.80 L650.64 1002.06 L651.89 1004.57 L651.89 1007.08 L650.64 1009.59 L646.87 1012.10 L640.60 1014.61 L638.09 1015.86 L635.58 1018.37 L634.32 1022.14 L634.32 1025.90 M645.62 999.55 L648.13 1000.80 L649.38 1002.06 L650.64 1004.57 L650.64 1007.08 L649.38 1009.59 L645.62 1012.10 L640.60 1014.61 M634.32 1023.39 L635.58 1022.14 L638.09 1022.14 L644.36 1024.65 L648.13 1024.65 L650.64 1023.39 L651.89 1022.14 M638.09 1022.14 L644.36 1025.90 L649.38 1025.90 L650.64 1024.65 L651.89 1022.14 L651.89 1019.63 M661.93 1023.39 L660.68 1024.65 L661.93 1025.90 L663.19 1024.65 L661.93 1023.39 M683.27 1002.06 L683.27 1025.90 M684.52 999.55 L684.52 1025.90 M684.52 999.55 L670.72 1018.37 L690.80 1018.37 M679.50 1025.90 L688.29 1025.90 M760.36 1004.57 L761.61 1005.82 L760.36 1007.08 L759.10 1005.82 L759.10 1004.57 L760.36 1002.06 L761.61 1000.80 L765.38 999.55 L770.40 999.55 L774.16 1000.80 L775.42 1002.06 L776.67 1004.57 L776.67 1007.08 L775.42 1009.59 L771.65 1012.10 L765.38 1014.61 L762.87 1015.86 L760.36 1018.37 L759.10 1022.14 L759.10 1025.90 M770.40 999.55 L772.91 1000.80 L774.16 1002.06 L775.42 1004.57 L775.42 1007.08 L774.16 1009.59 L770.40 1012.10 L765.38 1014.61 M759.10 1023.39 L760.36 1022.14 L762.87 1022.14 L769.14 1024.65 L772.91 1024.65 L775.42 1023.39 L776.67 1022.14 M762.87 1022.14 L769.14 1025.90 L774.16 1025.90 L775.42 1024.65 L776.67 1022.14 L776.67 1019.63 M786.71 1023.39 L785.46 1024.65 L786.71 1025.90 L787.97 1024.65 L786.71 1023.39 M799.26 999.55 L796.75 1012.10 M796.75 1012.10 L799.26 1009.59 L803.03 1008.33 L806.79 1008.33 L810.56 1009.59 L813.07 1012.10 L814.32 1015.86 L814.32 1018.37 L813.07 1022.14 L810.56 1024.65 L806.79 1025.90 L803.03 1025.90 L799.26 1024.65 L798.01 1023.39 L796.75 1020.88 L796.75 1019.63 L798.01 1018.37 L799.26 1019.63 L798.01 1020.88 M806.79 1008.33 L809.30 1009.59 L811.81 1012.10 L813.07 1015.86 L813.07 1018.37 L811.81 1022.14 L809.30 1024.65 L806.79 1025.90 M799.26 999.55 L811.81 999.55 M799.26 1000.80 L805.54 1000.80 L811.81 999.55 M155.74 104.88 L178.33 104.88 M190.88 94.84 L193.39 93.59 L197.16 89.82 L197.16 116.18 M195.90 91.08 L195.90 116.18 M190.88 116.18 L202.18 116.18 M118.09 365.98 L140.68 365.98 M153.23 355.94 L155.74 354.68 L159.50 350.92 L159.50 377.27 M158.25 352.17 L158.25 377.27 M153.23 377.27 L164.53 377.27 M177.07 374.76 L175.82 376.02 L177.07 377.27 L178.33 376.02 L177.07 374.76 M189.62 350.92 L187.12 363.47 M187.12 363.47 L189.62 360.96 L193.39 359.70 L197.16 359.70 L200.92 360.96 L203.43 363.47 L204.69 367.23 L204.69 369.74 L203.43 373.51 L200.92 376.02 L197.16 377.27 L193.39 377.27 L189.62 376.02 L188.37 374.76 L187.12 372.25 L187.12 371.00 L188.37 369.74 L189.62 371.00 L188.37 372.25 M197.16 359.70 L199.66 360.96 L202.18 363.47 L203.43 367.23 L203.43 369.74 L202.18 373.51 L199.66 376.02 L197.16 377.27 M189.62 350.92 L202.18 350.92 M189.62 352.17 L195.90 352.17 L202.18 350.92 M155.74 560.53 L178.33 560.53 M190.88 550.49 L193.39 549.24 L197.16 545.47 L197.16 571.83 M195.90 546.73 L195.90 571.83 M190.88 571.83 L202.18 571.83 M118.09 821.63 L140.68 821.63 M153.23 811.59 L155.74 810.33 L159.50 806.57 L159.50 832.92 M158.25 807.82 L158.25 832.92 M153.23 832.92 L164.53 832.92 M177.07 830.41 L175.82 831.67 L177.07 832.92 L178.33 831.67 L177.07 830.41 M189.62 806.57 L187.12 819.12 M187.12 819.12 L189.62 816.61 L193.39 815.35 L197.16 815.35 L200.92 816.61 L203.43 819.12 L204.69 822.88 L204.69 825.39 L203.43 829.16 L200.92 831.67 L197.16 832.92 L193.39 832.92 L189.62 831.67 L188.37 830.41 L187.12 827.90 L187.12 826.65 L188.37 825.39 L189.62 826.65 L188.37 827.90 M197.16 815.35 L199.66 816.61 L202.18 819.12 L203.43 822.88 L203.43 825.39 L202.18 829.16 L199.66 831.67 L197.16 832.92 M189.62 806.57 L202.18 806.57 M189.62 807.82 L195.90 807.82 L202.18 806.57 M522.10 1059.44 L522.10 1085.80 M523.36 1059.44 L523.36 1085.80 M514.57 1059.44 L513.32 1066.97 L513.32 1059.44 L532.14 1059.44 L532.14 1066.97 L530.88 1059.44 M518.34 1085.80 L527.12 1085.80 M95.16 546.33 L95.16 531.27 L92.65 531.27 L90.14 532.52 L88.88 533.78 L87.62 536.29 L87.62 540.05 L88.88 543.82 L91.39 546.33 L95.16 547.58 L97.67 547.58 L101.43 546.33 L103.94 543.82 L105.20 540.05 L105.20 537.54 L103.94 533.78 L101.43 531.27 M95.16 532.52 L91.39 532.52 L88.88 533.78 M87.62 540.05 L88.88 542.56 L91.39 545.07 L95.16 546.33 L97.67 546.33 L101.43 545.07 L103.94 542.56 L105.20 540.05" fill="none" stroke="#000" stroke-width="4.00" stroke-linejoin="round" stroke-linecap="butt"/>
<path d="M294.03 235.12 L294.03 259.90 M295.21 235.12 L295.21 259.90 M290.49 235.12 L298.75 235.12 M290.49 259.90 L308.19 259.90 L308.19 252.82 L307.01 259.90 M331.73 245.74 L352.97 245.74 M331.73 252.82 L352.97 252.82 M393.90 238.66 L392.72 239.84 L393.90 241.02 L395.08 239.84 L395.08 238.66 L393.90 236.30 L391.54 235.12 L388.00 235.12 L384.46 236.30 L382.10 238.66 L380.92 241.02 L379.74 245.74 L379.74 252.82 L380.92 256.36 L383.28 258.72 L386.82 259.90 L389.18 259.90 L392.72 258.72 L395.08 256.36 L396.26 252.82 L396.26 251.64 L395.08 248.10 L392.72 245.74 L389.18 244.56 L388.00 244.56 L384.46 245.74 L382.10 248.10 L380.92 251.64 M388.00 235.12 L385.64 236.30 L383.28 238.66 L382.10 241.02 L380.92 245.74 L380.92 252.82 L382.10 256.36 L384.46 258.72 L386.82 259.90 M389.18 259.90 L391.54 258.72 L393.90 256.36 L395.08 252.82 L395.08 251.64 L393.90 248.10 L391.54 245.74 L389.18 244.56 M413.96 237.48 L413.96 259.90 M415.14 235.12 L415.14 259.90 M415.14 235.12 L402.16 252.82 L421.04 252.82 M410.42 259.90 L418.68 259.90 M294.03 690.77 L294.03 715.55 M295.21 690.77 L295.21 715.55 M290.49 690.77 L298.75 690.77 M290.49 715.55 L308.19 715.55 L308.19 708.47 L307.01 715.55 M331.73 701.39 L352.97 701.39 M331.73 708.47 L352.97 708.47 M380.92 695.49 L382.10 696.67 L380.92 697.85 L379.74 696.67 L379.74 695.49 L380.92 693.13 L382.10 691.95 L385.64 690.77 L390.36 690.77 L393.90 691.95 L395.08 694.31 L395.08 697.85 L393.90 700.21 L390.36 701.39 L386.82 701.39 M390.36 690.77 L392.72 691.95 L393.90 694.31 L393.90 697.85 L392.72 700.21 L390.36 701.39 M390.36 701.39 L392.72 702.57 L395.08 704.93 L396.26 707.29 L396.26 710.83 L395.08 713.19 L393.90 714.37 L390.36 715.55 L385.64 715.55 L382.10 714.37 L380.92 713.19 L379.74 710.83 L379.74 709.65 L380.92 708.47 L382.10 709.65 L380.92 710.83 M393.90 703.75 L395.08 707.29 L395.08 710.83 L393.90 713.19 L392.72 714.37 L390.36 715.55 M404.52 695.49 L405.70 696.67 L404.52 697.85 L403.34 696.67 L403.34 695.49 L404.52 693.13 L405.70 691.95 L409.24 690.77 L413.96 690.77 L417.50 691.95 L418.68 693.13 L419.86 695.49 L419.86 697.85 L418.68 700.21 L415.14 702.57 L409.24 704.93 L406.88 706.11 L404.52 708.47 L403.34 712.01 L403.34 715.55 M413.96 690.77 L416.32 691.95 L417.50 693.13 L418.68 695.49 L418.68 697.85 L417.50 700.21 L413.96 702.57 L409.24 704.93 M403.34 713.19 L404.52 712.01 L406.88 712.01 L412.78 714.37 L416.32 714.37 L418.68 713.19 L419.86 712.01 M406.88 712.01 L412.78 715.55 L417.50 715.55 L418.68 714.37 L419.86 712.01 L419.86 709.65" fill="none" stroke="#000" stroke-width="2.20" stroke-linejoin="round" stroke-linecap="butt"/>
</svg>
</body></html>
